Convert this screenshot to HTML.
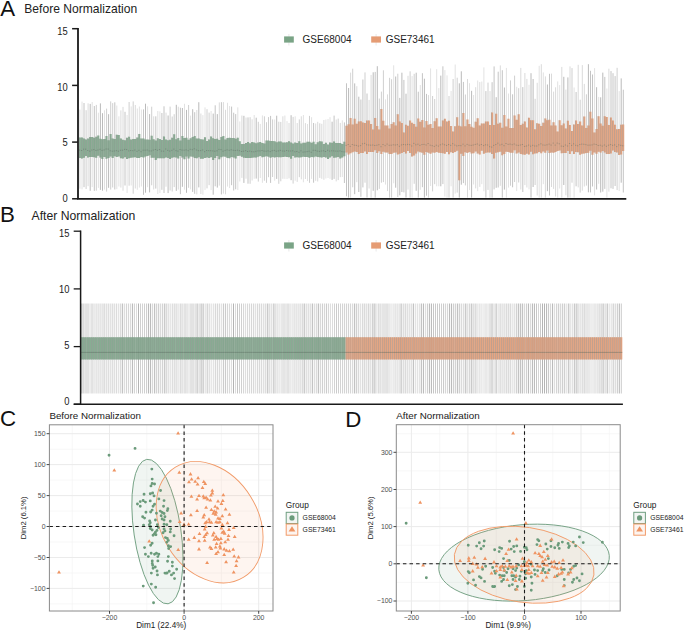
<!DOCTYPE html>
<html><head><meta charset="utf-8"><style>
html,body{margin:0;padding:0;background:#fff;overflow:hidden;}
svg{display:block;}
</style></head><body>
<svg width="685" height="631" viewBox="0 0 685 631">
<rect width="685" height="631" fill="#fff"/>
<path d="M79.9 109.6V188.7M88.1 103.3V186.2M120.9 110.4V187.6M123 106.9V190.7M135.3 105V188.5M153.7 116.3V189.5M166 112.6V186.7M178.3 106.7V189.6M196.8 110V194.4M200.9 113.5V194M219.3 102.4V185.6M223.4 102.1V193.6M225.5 109.8V194.3M241.9 115.5V177.9M246 117.5V178.7M252.1 119.3V180.5M282.9 116.3V178.8M289 123V178.4M297.2 123V181.9M301.3 116.3V179.4M305.4 123.1V179M315.7 123.5V180.8M317.7 121.8V181.5M321.8 123.8V178.8M323.9 120V179.8M336.2 119.5V181.4M340.3 122.9V177.2M350.6 72.6V197.6M356.8 86.2V182.2M369.1 99.9V188.5M371.1 74.9V197.6M387.5 94.4V191.1M408 75.8V189.6M428.5 95.1V197.6M467.5 79V197.6M475.7 87.2V188.4M479.8 82.1V186.9M490 91.1V197.6M500.3 65.4V185.8M520.8 67.9V189.5M524.9 73V185.1M526.9 78.9V187.5M537.2 82.8V195.5M541.3 64.2V197.6M545.4 76.4V197.6M551.5 73.6V187M553.6 91.6V188.9M555.6 87.3V196.5M561.8 66.9V197.6M565.9 89.6V195.3M570 66.4V197.6M578.2 64.8V187.4M582.3 65.1V190.7M584.3 83.9V186.5M608.9 68.7V191.7" stroke="#dadada" stroke-width="1.0" fill="none"/>
<path d="M82 101.6V189.3M92.2 102V187.1M98.4 112.7V187.9M104.5 110.3V189.6M116.8 105.5V189.2M118.9 116.3V186.5M127.1 115V193M131.2 106.4V185.5M137.3 108.5V189.8M139.4 106.5V187.6M141.4 109.5V186.5M147.6 106.3V187.2M157.8 111V194M159.9 111.4V193M184.5 103.8V189.7M190.6 115.6V189.4M202.9 115.1V194.7M205 107.4V189.9M211.1 111V190.1M227.5 102.8V186.6M229.6 106V188.1M237.8 107.3V190.1M239.8 121.4V181.5M254.2 115V178.8M260.3 123.9V178M262.4 115.4V182.8M274.7 119.5V180.7M284.9 115.5V178.9M287 121.1V179M295.2 116.3V180.7M303.4 115V182.3M307.5 124V181.1M311.6 117.2V178.9M325.9 119.5V178.5M328 119V178M330 117.2V178.8M342.3 120.3V177M385.5 99.4V184.6M393.7 65.3V183.3M412.1 76.1V197.6M420.3 85V189.8M430.6 68.4V186M436.7 69.2V186.3M438.8 88.1V186.3M444.9 70.1V196.6M447 75.4V197.6M451.1 90.9V186.3M455.2 64.5V193.6M469.5 83.2V190.1M473.6 95V184.5M477.7 80.5V191.2M481.8 81.5V184.2M483.9 67.4V191.3M506.4 67.9V197.6M508.5 93.5V187.6M516.7 86.8V191.1M529 84.8V189.4M539.2 65.8V197.6M543.3 72.4V184.2M557.7 81.4V197.6M559.7 85.1V188.5M574.1 87.5V197.6M594.6 68.1V195.4M598.7 96.9V183.8M606.9 88.5V197.6M619.2 91.1V191.1" stroke="#e2e2e2" stroke-width="1.0" fill="none"/>
<path d="M84 103V187.2M94.3 106V190.9M114.8 102.3V189.5M125 111.8V185.5M143.5 109.4V194.8M155.8 116.3V188.6M161.9 113V189.8M164 106.3V193M180.4 107.7V194.2M194.7 112.2V193.8M215.2 105.3V186.3M221.4 102.2V194.4M231.6 106.6V185.2M233.7 112.7V190.5M235.7 114.1V189.3M248 117.4V183.7M270.6 115.9V182.9M313.6 123V182.7M334.1 115.6V178.9M344.4 122.4V183M346.5 83.3V196.3M360.9 99.5V196.8M362.9 79.5V187.4M367 93.5V197.5M375.2 71.9V197.6M403.9 79.9V192.4M418.3 91.7V197.6M422.4 73.2V187.2M426.5 93.9V195.7M442.9 66.3V184.1M463.4 81.9V183.1M485.9 91.1V197.6M492.1 82.2V197.6M494.1 66.4V189.4M498.2 71.7V187.5M502.3 70.2V197.6M512.6 94.3V187.3M522.8 87.1V192M549.5 73.8V195.5M576.1 92V186.3M590.5 70.8V192.4M592.5 74.5V186.5M604.8 76.9V188.9M611 71.1V188.3M613 73.2V188.9M615.1 76.1V186M623.3 89.7V192.5" stroke="#c4c4c4" stroke-width="1.0" fill="none"/>
<path d="M86.1 110.2V189M96.3 104.9V190.7M106.6 108.6V191.6M110.7 101.4V189.6M112.7 103.1V187.5M129.1 102V185.7M133.2 101.4V193.7M151.7 106.7V185.3M170.1 106.6V190.5M172.2 116.5V191.5M174.2 114.2V187.1M188.6 105V187.8M207 109.2V188.4M209.1 112.6V185.2M250.1 117.2V183.8M258.3 121.8V181.6M264.4 116.3V180.7M266.5 122.2V182.8M268.5 117.1V177.2M272.6 119.4V177M278.8 121.7V183.8M280.8 121.9V181.3M293.1 116.9V183.6M299.3 119.4V177.2M309.5 115.9V182.8M319.8 123.3V177.9M338.2 118.6V180.1M352.7 68.7V187.3M365 72.4V182.7M379.3 98.5V188.9M381.4 91.6V182.7M383.4 70.3V182.1M389.6 77.8V197.6M391.6 79.2V197.6M397.8 73.7V197M410.1 71.3V197.6M414.2 73.8V183.8M432.6 96V191.4M434.7 99V184.2M449 96V197.6M453.1 79V197.6M457.2 77.7V192.6M465.4 94.5V185.4M488 82.6V189.9M510.5 80.4V185.7M514.6 75.6V182M518.7 88.2V182.5M535.1 98.8V185M572 68.1V182.7M580.2 99.7V192.6M586.4 94.3V185.6M617.1 67.8V190.1" stroke="#cfcfcf" stroke-width="1.0" fill="none"/>
<path d="M90.2 103.9V190.8M100.4 103.4V189.9M102.5 113.2V190.7M108.6 114.2V187.8M145.5 103.7V192.7M149.6 114.1V192.4M168.1 115.5V193.1M176.3 104.8V190.9M182.4 108V186.8M186.5 109.9V192.8M192.7 109.2V191.9M198.8 102.2V187.4M213.2 113.6V194.7M217.3 114.1V187.6M243.9 115.8V182.9M256.2 117.7V178.6M276.7 115.7V178.9M291.1 115.2V180.2M332.1 121.7V179.9M348.6 88V197.6M354.7 83.4V194.2M358.8 96.7V192M373.2 72.3V190.8M377.3 66.2V190.3M395.7 76.5V187.7M399.8 97.9V195.3M401.9 72.7V192M406 93.7V197.5M416.2 72.7V190.8M424.4 78.7V197.6M440.8 75.6V186.3M459.3 83.3V197.6M461.3 71.3V184.7M471.6 90.8V197.6M496.2 97.2V187.8M504.4 87.5V189.6M531 73.2V197.6M533.1 79V187M547.4 84.5V191.2M563.8 76.8V185M567.9 77.4V197.6M588.4 64.2V192.3M596.6 87.2V189.5M600.7 97.3V192.5M602.8 72.6V191.7M621.2 78.4V182.7" stroke="#bababa" stroke-width="1.0" fill="none"/>
<path d="M78.9 137.6h2.05V158.1h-2.05zM81 137.5h2.05V158.6h-2.05zM83 138.6h2.05V157.8h-2.05zM85 139.4h2.05V156.1h-2.05zM87.1 138.5h2.05V157.6h-2.05zM89.1 137h2.05V157h-2.05zM91.2 137h2.05V156.9h-2.05zM93.2 137.8h2.05V157.2h-2.05zM95.3 136.7h2.05V157.8h-2.05zM97.3 135.6h2.05V155.8h-2.05zM99.4 138.8h2.05V157.5h-2.05zM101.4 139.3h2.05V158.9h-2.05zM103.5 139h2.05V157h-2.05zM105.5 136h2.05V158.8h-2.05zM107.6 140.3h2.05V158.1h-2.05zM109.6 134h2.05V156.6h-2.05zM111.7 138.4h2.05V158h-2.05zM113.7 139h2.05V156.2h-2.05zM115.8 134.8h2.05V157h-2.05zM117.8 135.1h2.05V156.4h-2.05zM119.9 138.5h2.05V158.2h-2.05zM121.9 139.8h2.05V158.5h-2.05zM124 140.3h2.05V157.2h-2.05zM126 137.8h2.05V158.9h-2.05zM128.1 136.7h2.05V158.2h-2.05zM130.1 139.4h2.05V157.7h-2.05zM132.2 138.9h2.05V157.6h-2.05zM134.2 138.9h2.05V157.2h-2.05zM136.3 137.5h2.05V157.9h-2.05zM138.3 133.9h2.05V158h-2.05zM140.4 138.5h2.05V157.1h-2.05zM142.5 138.6h2.05V157.4h-2.05zM144.5 139.6h2.05V156.5h-2.05zM146.6 139.5h2.05V156.1h-2.05zM148.6 139.7h2.05V155.2h-2.05zM150.7 135.7h2.05V157.8h-2.05zM152.7 139.3h2.05V157.7h-2.05zM154.8 140.5h2.05V160.1h-2.05zM156.8 138.2h2.05V158.2h-2.05zM158.9 139h2.05V158.2h-2.05zM160.9 140h2.05V158.3h-2.05zM163 136.5h2.05V158.3h-2.05zM165 139.6h2.05V157.4h-2.05zM167.1 140.3h2.05V158h-2.05zM169.1 139.8h2.05V158.9h-2.05zM171.2 137.7h2.05V157.7h-2.05zM173.2 134.3h2.05V157.3h-2.05zM175.3 139.3h2.05V157.6h-2.05zM177.3 137.9h2.05V158.5h-2.05zM179.4 140.6h2.05V155.9h-2.05zM181.4 136h2.05V157.6h-2.05zM183.5 138h2.05V159.2h-2.05zM185.5 137.7h2.05V156.5h-2.05zM187.6 139.7h2.05V158.5h-2.05zM189.6 138.3h2.05V156.5h-2.05zM191.7 137h2.05V156.8h-2.05zM193.7 136.1h2.05V157.9h-2.05zM195.8 138.5h2.05V158.3h-2.05zM197.8 138.5h2.05V157.2h-2.05zM199.9 139.2h2.05V158.8h-2.05zM201.9 139.4h2.05V158.8h-2.05zM204 137.2h2.05V158h-2.05zM206 141h2.05V157.5h-2.05zM208.1 139.4h2.05V157.9h-2.05zM210.1 136.4h2.05V157.3h-2.05zM212.2 138.2h2.05V160h-2.05zM214.2 139h2.05V158h-2.05zM216.3 138.7h2.05V155.9h-2.05zM218.3 140.1h2.05V159.2h-2.05zM220.4 136.9h2.05V157.2h-2.05zM222.4 136.1h2.05V156.4h-2.05zM224.5 139.6h2.05V156.8h-2.05zM226.5 137.9h2.05V158.1h-2.05zM228.6 137.8h2.05V158.2h-2.05zM230.6 138.1h2.05V156.9h-2.05zM232.7 138h2.05V157.6h-2.05zM234.7 138.7h2.05V158.5h-2.05zM236.8 137.7h2.05V155.9h-2.05zM238.8 141.3h2.05V155.7h-2.05zM240.9 144h2.05V156.8h-2.05zM242.9 143.9h2.05V157.7h-2.05zM245 143h2.05V157.9h-2.05zM247 142.1h2.05V157.9h-2.05zM249.1 143.3h2.05V158h-2.05zM251.1 142.1h2.05V157.8h-2.05zM253.2 142.4h2.05V157.5h-2.05zM255.2 143.3h2.05V157.6h-2.05zM257.3 142.5h2.05V156.7h-2.05zM259.3 142h2.05V156.1h-2.05zM261.4 143h2.05V157.2h-2.05zM263.4 143.5h2.05V156.8h-2.05zM265.5 140.6h2.05V156.2h-2.05zM267.5 140.6h2.05V156.7h-2.05zM269.6 141h2.05V157.7h-2.05zM271.6 141.1h2.05V157h-2.05zM273.7 141.3h2.05V157.6h-2.05zM275.7 142.2h2.05V157.1h-2.05zM277.8 141.6h2.05V157.2h-2.05zM279.8 141.4h2.05V157.3h-2.05zM281.9 142.6h2.05V157.1h-2.05zM283.9 142.4h2.05V156.8h-2.05zM286 142.3h2.05V156.9h-2.05zM288 141.3h2.05V157.2h-2.05zM290.1 142.5h2.05V158.7h-2.05zM292.1 143.5h2.05V155.9h-2.05zM294.2 142.6h2.05V157.5h-2.05zM296.2 142.9h2.05V157.2h-2.05zM298.3 141.3h2.05V157.4h-2.05zM300.3 143.6h2.05V157.3h-2.05zM302.4 142.7h2.05V156.8h-2.05zM304.4 142.7h2.05V157h-2.05zM306.5 141.7h2.05V156.9h-2.05zM308.5 141.7h2.05V157.8h-2.05zM310.6 142.7h2.05V157h-2.05zM312.6 141.8h2.05V157.3h-2.05zM314.7 144.2h2.05V156.4h-2.05zM316.7 142.3h2.05V157.1h-2.05zM318.8 141.3h2.05V157.3h-2.05zM320.8 141.5h2.05V157.4h-2.05zM322.9 144h2.05V157h-2.05zM324.9 142.7h2.05V157.6h-2.05zM327 144.5h2.05V159h-2.05zM329 142.6h2.05V157.5h-2.05zM331.1 142.8h2.05V156.2h-2.05zM333.1 141.4h2.05V157.7h-2.05zM335.2 143h2.05V157.6h-2.05zM337.2 142.9h2.05V157h-2.05zM339.3 143.1h2.05V158.4h-2.05zM341.3 143.9h2.05V157.5h-2.05zM343.4 141.7h2.05V156.2h-2.05z" fill="#7aa486" fill-opacity="0.88"/>
<path d="M345.5 125.8h2.05V152.6h-2.05zM347.6 124.3h2.05V154.6h-2.05zM349.6 117.9h2.05V153.2h-2.05zM351.7 124.5h2.05V152.2h-2.05zM353.7 118.7h2.05V151.4h-2.05zM355.8 123.8h2.05V152.1h-2.05zM357.8 121.4h2.05V154.1h-2.05zM359.9 121.3h2.05V152.9h-2.05zM361.9 122.5h2.05V153h-2.05zM364 122.9h2.05V151.4h-2.05zM366 120.6h2.05V153.9h-2.05zM368.1 120.4h2.05V152h-2.05zM370.1 124h2.05V152h-2.05zM372.2 129.5h2.05V152h-2.05zM374.2 117.9h2.05V150.3h-2.05zM376.3 126h2.05V153h-2.05zM378.3 129.5h2.05V151.3h-2.05zM380.4 109h2.05V153.9h-2.05zM382.4 120.8h2.05V151.8h-2.05zM384.5 125.4h2.05V152.6h-2.05zM386.5 125.5h2.05V152.6h-2.05zM388.6 128.6h2.05V154.1h-2.05zM390.6 124.1h2.05V153.9h-2.05zM392.7 122.2h2.05V152.8h-2.05zM394.7 125.5h2.05V152.4h-2.05zM396.8 114.2h2.05V154.4h-2.05zM398.8 121.5h2.05V153.7h-2.05zM400.9 123h2.05V153h-2.05zM402.9 132.4h2.05V152h-2.05zM405 124.8h2.05V153.5h-2.05zM407 125.8h2.05V150.9h-2.05zM409.1 120.6h2.05V152.9h-2.05zM411.1 122.8h2.05V156.5h-2.05zM413.2 123.9h2.05V155.5h-2.05zM415.2 126.7h2.05V153.6h-2.05zM417.3 118.6h2.05V151.5h-2.05zM419.3 121.8h2.05V152.3h-2.05zM421.4 120h2.05V152.7h-2.05zM423.4 127.5h2.05V154.8h-2.05zM425.5 121.1h2.05V151.9h-2.05zM427.5 124.7h2.05V152.8h-2.05zM429.6 124h2.05V153.8h-2.05zM431.6 128h2.05V152.5h-2.05zM433.7 121.2h2.05V152.7h-2.05zM435.7 118.2h2.05V151.9h-2.05zM437.8 126.6h2.05V152.7h-2.05zM439.8 126.4h2.05V152.9h-2.05zM441.9 120.5h2.05V153.2h-2.05zM443.9 118.8h2.05V153.7h-2.05zM446 121.5h2.05V152h-2.05zM448 120.8h2.05V154.2h-2.05zM450.1 126h2.05V152.3h-2.05zM452.1 131.4h2.05V152.9h-2.05zM454.2 126.2h2.05V152.1h-2.05zM456.2 117.2h2.05V150.8h-2.05zM458.3 125.8h2.05V180.2h-2.05zM460.3 126.4h2.05V153.7h-2.05zM462.4 113h2.05V155.9h-2.05zM464.4 126.3h2.05V152.3h-2.05zM466.5 119.6h2.05V153h-2.05zM468.5 124h2.05V152.1h-2.05zM470.6 126.8h2.05V153.4h-2.05zM472.6 127.8h2.05V153.2h-2.05zM474.7 121.7h2.05V151.6h-2.05zM476.7 118.2h2.05V153.6h-2.05zM478.8 125.4h2.05V154.4h-2.05zM480.8 123.4h2.05V150.7h-2.05zM482.9 123.5h2.05V153.7h-2.05zM484.9 121.6h2.05V152.8h-2.05zM487 121.5h2.05V152.4h-2.05zM489 124.9h2.05V152.6h-2.05zM491.1 112.4h2.05V154h-2.05zM493.1 124.9h2.05V158.5h-2.05zM495.2 113.8h2.05V152.8h-2.05zM497.2 123.7h2.05V152.2h-2.05zM499.3 122.7h2.05V151.7h-2.05zM501.3 127.8h2.05V155.2h-2.05zM503.4 115.1h2.05V153.9h-2.05zM505.4 126.4h2.05V151.7h-2.05zM507.5 118.8h2.05V152h-2.05zM509.5 128h2.05V152.7h-2.05zM511.6 128h2.05V152.8h-2.05zM513.6 115.4h2.05V150.2h-2.05zM515.7 119.8h2.05V153.5h-2.05zM517.7 114.3h2.05V152.6h-2.05zM519.8 124.9h2.05V153.9h-2.05zM521.8 123.7h2.05V154.4h-2.05zM523.9 121.4h2.05V154.7h-2.05zM525.9 127.5h2.05V153.8h-2.05zM528 117.7h2.05V154.5h-2.05zM530 120.2h2.05V151.8h-2.05zM532.1 120.3h2.05V154.2h-2.05zM534.1 129.3h2.05V153.5h-2.05zM536.2 123.2h2.05V153.3h-2.05zM538.2 123.8h2.05V152.1h-2.05zM540.3 125.9h2.05V153.2h-2.05zM542.3 122.7h2.05V151.5h-2.05zM544.4 118.4h2.05V152.8h-2.05zM546.4 120.2h2.05V150.6h-2.05zM548.5 119.7h2.05V153.1h-2.05zM550.5 125.5h2.05V152.6h-2.05zM552.6 122.3h2.05V152.7h-2.05zM554.6 125.4h2.05V152.1h-2.05zM556.6 131.5h2.05V151.1h-2.05zM558.7 120.2h2.05V150.6h-2.05zM560.7 125.3h2.05V153.2h-2.05zM562.8 123.4h2.05V153h-2.05zM564.8 128.5h2.05V153.1h-2.05zM566.9 120.7h2.05V150.9h-2.05zM568.9 124.9h2.05V153.9h-2.05zM571 131.1h2.05V151.3h-2.05zM573 124.5h2.05V154.1h-2.05zM575.1 120.6h2.05V152.1h-2.05zM577.1 123.9h2.05V152.3h-2.05zM579.2 121.5h2.05V154.7h-2.05zM581.2 125.4h2.05V153.8h-2.05zM583.3 116.5h2.05V153.6h-2.05zM585.3 127.9h2.05V153.1h-2.05zM587.4 125.5h2.05V152.8h-2.05zM589.4 111.8h2.05V150.7h-2.05zM591.5 118.5h2.05V154.7h-2.05zM593.5 132.4h2.05V152.4h-2.05zM595.6 129h2.05V153.8h-2.05zM597.6 116.2h2.05V151.8h-2.05zM599.7 123.5h2.05V152.6h-2.05zM601.7 125.8h2.05V151h-2.05zM603.8 116.2h2.05V152.4h-2.05zM605.8 117h2.05V154.1h-2.05zM607.9 124.9h2.05V153.9h-2.05zM609.9 117.6h2.05V153.5h-2.05zM612 120.6h2.05V150.6h-2.05zM614 124.7h2.05V152.1h-2.05zM616.1 129.2h2.05V152.5h-2.05zM618.1 128.9h2.05V154.9h-2.05zM620.2 124.7h2.05V154.4h-2.05zM622.2 124.5h2.05V151.1h-2.05z" fill="#e59c74" fill-opacity="0.88"/>
<path d="M79.4 137.6V158.1M81.4 137.5V158.6M83.5 138.6V157.8M85.5 139.4V156.1M87.5 138.5V157.6M89.6 137V157M91.6 137V156.9M93.7 137.8V157.2M95.7 136.7V157.8M97.8 135.6V155.8M99.8 138.8V157.5M101.9 139.3V158.9M103.9 139V157M106 136V158.8M108 140.3V158.1M110.1 134V156.6M112.1 138.4V158M114.2 139V156.2M116.2 134.8V157M118.3 135.1V156.4M120.3 138.5V158.2M122.4 139.8V158.5M124.4 140.3V157.2M126.5 137.8V158.9M128.5 136.7V158.2M130.6 139.4V157.7M132.6 138.9V157.6M134.7 138.9V157.2M136.7 137.5V157.9M138.8 133.9V158M140.8 138.5V157.1M142.9 138.6V157.4M145 139.6V156.5M147 139.5V156.1M149.1 139.7V155.2M151.1 135.7V157.8M153.2 139.3V157.7M155.2 140.5V160.1M157.3 138.2V158.2M159.3 139V158.2M161.4 140V158.3M163.4 136.5V158.3M165.5 139.6V157.4M167.5 140.3V158M169.6 139.8V158.9M171.6 137.7V157.7M173.7 134.3V157.3M175.7 139.3V157.6M177.8 137.9V158.5M179.8 140.6V155.9M181.9 136V157.6M183.9 138V159.2M186 137.7V156.5M188 139.7V158.5M190.1 138.3V156.5M192.1 137V156.8M194.2 136.1V157.9M196.2 138.5V158.3M198.3 138.5V157.2M200.3 139.2V158.8M202.4 139.4V158.8M204.4 137.2V158M206.5 141V157.5M208.5 139.4V157.9M210.6 136.4V157.3M212.6 138.2V160M214.7 139V158M216.7 138.7V155.9M218.8 140.1V159.2M220.8 136.9V157.2M222.9 136.1V156.4M224.9 139.6V156.8M227 137.9V158.1M229 137.8V158.2M231.1 138.1V156.9M233.1 138V157.6M235.2 138.7V158.5M237.2 137.7V155.9M239.3 141.3V155.7M241.3 144V156.8M243.4 143.9V157.7M245.4 143V157.9M247.5 142.1V157.9M249.5 143.3V158M251.6 142.1V157.8M253.6 142.4V157.5M255.7 143.3V157.6M257.7 142.5V156.7M259.8 142V156.1M261.8 143V157.2M263.9 143.5V156.8M265.9 140.6V156.2M268 140.6V156.7M270 141V157.7M272.1 141.1V157M274.1 141.3V157.6M276.2 142.2V157.1M278.2 141.6V157.2M280.3 141.4V157.3M282.3 142.6V157.1M284.4 142.4V156.8M286.4 142.3V156.9M288.5 141.3V157.2M290.5 142.5V158.7M292.6 143.5V155.9M294.6 142.6V157.5M296.7 142.9V157.2M298.7 141.3V157.4M300.8 143.6V157.3M302.8 142.7V156.8M304.9 142.7V157M306.9 141.7V156.9M309 141.7V157.8M311 142.7V157M313.1 141.8V157.3M315.1 144.2V156.4M317.2 142.3V157.1M319.2 141.3V157.3M321.3 141.5V157.4M323.3 144V157M325.4 142.7V157.6M327.4 144.5V159M329.5 142.6V157.5M331.5 142.8V156.2M333.6 141.4V157.7M335.6 143V157.6M337.7 142.9V157M339.7 143.1V158.4M341.8 143.9V157.5M343.8 141.7V156.2M345.9 125.8V152.6M348 124.3V154.6M350.1 117.9V153.2M352.1 124.5V152.2M354.2 118.7V151.4M356.2 123.8V152.1M358.3 121.4V154.1M360.3 121.3V152.9M362.4 122.5V153M364.4 122.9V151.4M366.5 120.6V153.9M368.5 120.4V152M370.6 124V152M372.6 129.5V152M374.7 117.9V150.3M376.7 126V153M378.8 129.5V151.3M380.8 109V153.9M382.9 120.8V151.8M384.9 125.4V152.6M387 125.5V152.6M389 128.6V154.1M391.1 124.1V153.9M393.1 122.2V152.8M395.2 125.5V152.4M397.2 114.2V154.4M399.3 121.5V153.7M401.3 123V153M403.4 132.4V152M405.4 124.8V153.5M407.5 125.8V150.9M409.5 120.6V152.9M411.6 122.8V156.5M413.6 123.9V155.5M415.7 126.7V153.6M417.7 118.6V151.5M419.8 121.8V152.3M421.8 120V152.7M423.9 127.5V154.8M425.9 121.1V151.9M428 124.7V152.8M430 124V153.8M432.1 128V152.5M434.1 121.2V152.7M436.2 118.2V151.9M438.2 126.6V152.7M440.3 126.4V152.9M442.3 120.5V153.2M444.4 118.8V153.7M446.4 121.5V152M448.5 120.8V154.2M450.5 126V152.3M452.6 131.4V152.9M454.6 126.2V152.1M456.7 117.2V150.8M458.7 125.8V180.2M460.8 126.4V153.7M462.8 113V155.9M464.9 126.3V152.3M466.9 119.6V153M469 124V152.1M471 126.8V153.4M473.1 127.8V153.2M475.1 121.7V151.6M477.2 118.2V153.6M479.2 125.4V154.4M481.3 123.4V150.7M483.3 123.5V153.7M485.4 121.6V152.8M487.4 121.5V152.4M489.5 124.9V152.6M491.5 112.4V154M493.6 124.9V158.5M495.6 113.8V152.8M497.7 123.7V152.2M499.7 122.7V151.7M501.8 127.8V155.2M503.8 115.1V153.9M505.9 126.4V151.7M507.9 118.8V152M510 128V152.7M512 128V152.8M514.1 115.4V150.2M516.1 119.8V153.5M518.2 114.3V152.6M520.2 124.9V153.9M522.3 123.7V154.4M524.3 121.4V154.7M526.4 127.5V153.8M528.4 117.7V154.5M530.5 120.2V151.8M532.5 120.3V154.2M534.6 129.3V153.5M536.6 123.2V153.3M538.7 123.8V152.1M540.7 125.9V153.2M542.8 122.7V151.5M544.8 118.4V152.8M546.9 120.2V150.6M548.9 119.7V153.1M551 125.5V152.6M553 122.3V152.7M555.1 125.4V152.1M557.1 131.5V151.1M559.1 120.2V150.6M561.2 125.3V153.2M563.2 123.4V153M565.3 128.5V153.1M567.3 120.7V150.9M569.4 124.9V153.9M571.4 131.1V151.3M573.5 124.5V154.1M575.5 120.6V152.1M577.6 123.9V152.3M579.6 121.5V154.7M581.7 125.4V153.8M583.7 116.5V153.6M585.8 127.9V153.1M587.8 125.5V152.8M589.9 111.8V150.7M591.9 118.5V154.7M594 132.4V152.4M596 129V153.8M598.1 116.2V151.8M600.1 123.5V152.6M602.2 125.8V151M604.2 116.2V152.4M606.3 117V154.1M608.3 124.9V153.9M610.4 117.6V153.5M612.4 120.6V150.6M614.5 124.7V152.1M616.5 129.2V152.5M618.6 128.9V154.9M620.6 124.7V154.4M622.7 124.5V151.1" stroke="#999" stroke-opacity="0.5" stroke-width="0.9" fill="none"/>
<path d="M78.9 150.1h2.05M81 150.5h2.05M83 149.2h2.05M85 149.2h2.05M87.1 150.5h2.05M89.1 151.2h2.05M91.2 150h2.05M93.2 149.6h2.05M95.3 150.5h2.05M97.3 150h2.05M99.4 149.3h2.05M101.4 150.4h2.05M103.5 149.9h2.05M105.5 149h2.05M107.6 149.1h2.05M109.6 150.8h2.05M111.7 151.2h2.05M113.7 151h2.05M115.8 150.7h2.05M117.8 151.2h2.05M119.9 150.3h2.05M121.9 150.2h2.05M124 149.4h2.05M126 149.6h2.05M128.1 150.9h2.05M130.1 150.5h2.05M132.2 150.7h2.05M134.2 150h2.05M136.3 151.3h2.05M138.3 150.3h2.05M140.4 151.7h2.05M142.5 150.2h2.05M144.5 150.2h2.05M146.6 150h2.05M148.6 150.9h2.05M150.7 150.9h2.05M152.7 150.1h2.05M154.8 149.5h2.05M156.8 150.3h2.05M158.9 149.6h2.05M160.9 151.1h2.05M163 151.2h2.05M165 149h2.05M167.1 150.4h2.05M169.1 151.1h2.05M171.2 150.3h2.05M173.2 149.1h2.05M175.3 150.7h2.05M177.3 151.1h2.05M179.4 149.5h2.05M181.4 150.1h2.05M183.5 150.2h2.05M185.5 149.9h2.05M187.6 150.7h2.05M189.6 149.3h2.05M191.7 149.7h2.05M193.7 148.8h2.05M195.8 150h2.05M197.8 150.7h2.05M199.9 150.6h2.05M201.9 150h2.05M204 151.7h2.05M206 150.5h2.05M208.1 150.7h2.05M210.1 150.7h2.05M212.2 150.9h2.05M214.2 151.2h2.05M216.3 150.8h2.05M218.3 149.4h2.05M220.4 149.6h2.05M222.4 151.2h2.05M224.5 150.4h2.05M226.5 149.8h2.05M228.6 150.3h2.05M230.6 149.8h2.05M232.7 150.3h2.05M234.7 150.5h2.05M236.8 150.2h2.05M238.8 150.7h2.05M240.9 151.5h2.05M242.9 151.2h2.05M245 150.7h2.05M247 151.5h2.05M249.1 151.1h2.05M251.1 151.7h2.05M253.2 151.8h2.05M255.2 151.3h2.05M257.3 150.9h2.05M259.3 150.9h2.05M261.4 150.5h2.05M263.4 151.1h2.05M265.5 151.2h2.05M267.5 150.9h2.05M269.6 151.6h2.05M271.6 150.7h2.05M273.7 150.4h2.05M275.7 151.2h2.05M277.8 150.9h2.05M279.8 150.4h2.05M281.9 151h2.05M283.9 151.1h2.05M286 150.5h2.05M288 151h2.05M290.1 151h2.05M292.1 150.8h2.05M294.2 151.8h2.05M296.2 151.5h2.05M298.3 152.3h2.05M300.3 150.8h2.05M302.4 152.1h2.05M304.4 151.9h2.05M306.5 151.6h2.05M308.5 151.2h2.05M310.6 152.3h2.05M312.6 150.3h2.05M314.7 150.4h2.05M316.7 151.1h2.05M318.8 151.4h2.05M320.8 151h2.05M322.9 150.8h2.05M324.9 151.5h2.05M327 150.3h2.05M329 151.1h2.05M331.1 150.8h2.05M333.1 150.9h2.05M335.2 151.1h2.05M337.2 151.2h2.05M339.3 150.9h2.05M341.3 151.6h2.05M343.4 151.9h2.05M345.5 145.4h2.05M347.6 144.5h2.05M349.6 146.4h2.05M351.7 144.5h2.05M353.7 145.2h2.05M355.8 145.4h2.05M357.8 146.1h2.05M359.9 145.6h2.05M361.9 143.8h2.05M364 143.4h2.05M366 144.8h2.05M368.1 145h2.05M370.1 145.2h2.05M372.2 145h2.05M374.2 145.5h2.05M376.3 145.2h2.05M378.3 144.7h2.05M380.4 146.7h2.05M382.4 144.5h2.05M384.5 145.7h2.05M386.5 144.1h2.05M388.6 145.3h2.05M390.6 145.2h2.05M392.7 144.8h2.05M394.7 145h2.05M396.8 144.7h2.05M398.8 146.3h2.05M400.9 144.9h2.05M402.9 144.5h2.05M405 144.8h2.05M407 144.4h2.05M409.1 144.7h2.05M411.1 146h2.05M413.2 143.4h2.05M415.2 144.8h2.05M417.3 144.2h2.05M419.3 145.4h2.05M421.4 144.5h2.05M423.4 144.4h2.05M425.5 145h2.05M427.5 143.5h2.05M429.6 145.2h2.05M431.6 145.7h2.05M433.7 146.4h2.05M435.7 145.2h2.05M437.8 146.1h2.05M439.8 144.8h2.05M441.9 144h2.05M443.9 144.8h2.05M446 145.4h2.05M448 144.5h2.05M450.1 145.4h2.05M452.1 143.7h2.05M454.2 145.1h2.05M456.2 145.9h2.05M458.3 145.5h2.05M460.3 145.7h2.05M462.4 144.2h2.05M464.4 145.9h2.05M466.5 144.4h2.05M468.5 145.2h2.05M470.6 145.4h2.05M472.6 145h2.05M474.7 144.4h2.05M476.7 144h2.05M478.8 145.2h2.05M480.8 144.5h2.05M482.9 145.6h2.05M484.9 144.8h2.05M487 145h2.05M489 146.7h2.05M491.1 147.1h2.05M493.1 145.4h2.05M495.2 144.5h2.05M497.2 143.2h2.05M499.3 145h2.05M501.3 144.3h2.05M503.4 145.7h2.05M505.4 143.5h2.05M507.5 144.4h2.05M509.5 144.1h2.05M511.6 144.7h2.05M513.6 144h2.05M515.7 145.1h2.05M517.7 145.4h2.05M519.8 145h2.05M521.8 144.5h2.05M523.9 146.4h2.05M525.9 146h2.05M528 145.1h2.05M530 146.2h2.05M532.1 145.3h2.05M534.1 146h2.05M536.2 146h2.05M538.2 144.8h2.05M540.3 143.8h2.05M542.3 145h2.05M544.4 145.2h2.05M546.4 144.8h2.05M548.5 144.1h2.05M550.5 145.1h2.05M552.6 143.1h2.05M554.6 145.1h2.05M556.6 143.1h2.05M558.7 143.8h2.05M560.7 146.1h2.05M562.8 146.4h2.05M564.8 145h2.05M566.9 146h2.05M568.9 143.5h2.05M571 145.4h2.05M573 143.8h2.05M575.1 145.3h2.05M577.1 145.8h2.05M579.2 144.5h2.05M581.2 144.1h2.05M583.3 144.3h2.05M585.3 144.7h2.05M587.4 145.2h2.05M589.4 145.1h2.05M591.5 144.9h2.05M593.5 144.1h2.05M595.6 144.5h2.05M597.6 145.5h2.05M599.7 145.2h2.05M601.7 146.1h2.05M603.8 145h2.05M605.8 146.3h2.05M607.9 145.2h2.05M609.9 144.6h2.05M612 145.3h2.05M614 144.9h2.05M616.1 146.6h2.05M618.1 144.9h2.05M620.2 145.4h2.05M622.2 145.8h2.05" stroke="#55655a" stroke-width="0.7" opacity="0.55" stroke-dasharray="1.2 0.8" fill="none"/>
<path d="M78 27.9V199.7M77.1 198.8H626.3" stroke="#1a1a1a" stroke-width="1.8" fill="none"/>
<path d="M72.1 198.8H78" stroke="#1a1a1a" stroke-width="1.5"/>
<text transform="translate(67.8 202.1) scale(0.92 1)" font-family="Liberation Sans" font-size="10.2" fill="#222" text-anchor="end">0</text>
<path d="M72.1 142.1H78" stroke="#1a1a1a" stroke-width="1.5"/>
<text transform="translate(67.8 146.3) scale(0.92 1)" font-family="Liberation Sans" font-size="10.2" fill="#222" text-anchor="end">5</text>
<path d="M72.1 85.4H78" stroke="#1a1a1a" stroke-width="1.5"/>
<text transform="translate(67.8 90.6) scale(0.92 1)" font-family="Liberation Sans" font-size="10.2" fill="#222" text-anchor="end">10</text>
<path d="M72.1 28.7H78" stroke="#1a1a1a" stroke-width="1.5"/>
<text transform="translate(67.8 34.8) scale(0.92 1)" font-family="Liberation Sans" font-size="10.2" fill="#222" text-anchor="end">15</text>
<text x="0.2" y="16.2" font-family="Liberation Sans" font-size="22.3" fill="#111">A</text>
<text x="24.3" y="13.2" font-family="Liberation Sans" font-size="12.1" fill="#222">Before Normalization</text>
<path d="M288.9 34.0v11.5M376.1 34.0v11.5" stroke="#d8d8d8" stroke-width="0.6"/>
<rect x="284.1" y="36.4" width="9.7" height="6.2" fill="#7aa486"/>
<text x="302.6" y="43.0" font-family="Liberation Sans" font-size="10" fill="#222">GSE68004</text>
<rect x="371.2" y="36.4" width="9.8" height="6.2" fill="#e59c74"/>
<text x="385.7" y="43.0" font-family="Liberation Sans" font-size="10" fill="#222">GSE73461</text>
<path d="M81.9 303.5V393.5M122.3 303.5V393.5M132.4 303.5V393.5M138.5 303.5V393.5M148.6 303.5V393.5M150.6 303.5V393.5M154.7 303.5V393.5M164.8 303.5V393.5M197.1 303.5V393.5M201.1 303.5V393.5M203.1 303.5V393.5M233.5 303.5V393.5M267.8 303.5V393.5M273.9 303.5V393.5M304.2 303.5V393.5M312.3 303.5V393.5M318.3 303.5V393.5M354.7 303.5V393.5M372.9 303.5V393.5M374.9 303.5V393.5M401.1 303.5V393.5M413.3 303.5V393.5M421.3 303.5V393.5M423.4 303.5V393.5M429.4 303.5V393.5M431.4 303.5V393.5M449.6 303.5V393.5M451.6 303.5V393.5M457.7 303.5V393.5M465.8 303.5V393.5M471.8 303.5V393.5M492 303.5V393.5M496.1 303.5V393.5M518.3 303.5V393.5M520.3 303.5V393.5M522.3 303.5V393.5M528.4 303.5V393.5M532.4 303.5V393.5M534.4 303.5V393.5M542.5 303.5V393.5M544.5 303.5V393.5M546.6 303.5V393.5M552.6 303.5V393.5M568.8 303.5V393.5M574.8 303.5V393.5M576.9 303.5V393.5M603.1 303.5V393.5M607.2 303.5V393.5M619.3 303.5V393.5" stroke="#b4b4b4" stroke-width="1.0" fill="none"/>
<path d="M83.9 303.5V393.5M86 303.5V393.5M88 303.5V393.5M92 303.5V393.5M104.1 303.5V393.5M158.7 303.5V393.5M180.9 303.5V393.5M185 303.5V393.5M191 303.5V393.5M193 303.5V393.5M207.2 303.5V393.5M223.4 303.5V393.5M225.4 303.5V393.5M237.5 303.5V393.5M288 303.5V393.5M326.4 303.5V393.5M356.7 303.5V393.5M368.8 303.5V393.5M378.9 303.5V393.5M387 303.5V393.5M433.5 303.5V393.5M443.6 303.5V393.5M453.7 303.5V393.5M459.7 303.5V393.5M469.8 303.5V393.5M475.9 303.5V393.5M490 303.5V393.5M516.3 303.5V393.5M536.5 303.5V393.5M548.6 303.5V393.5M558.7 303.5V393.5M562.7 303.5V393.5M564.7 303.5V393.5M584.9 303.5V393.5M601.1 303.5V393.5M613.2 303.5V393.5M617.3 303.5V393.5" stroke="#c6c6c6" stroke-width="1.0" fill="none"/>
<path d="M90 303.5V393.5M118.3 303.5V393.5M136.5 303.5V393.5M170.8 303.5V393.5M178.9 303.5V393.5M189 303.5V393.5M205.2 303.5V393.5M211.2 303.5V393.5M213.3 303.5V393.5M221.3 303.5V393.5M231.4 303.5V393.5M235.5 303.5V393.5M245.6 303.5V393.5M255.7 303.5V393.5M279.9 303.5V393.5M292.1 303.5V393.5M330.4 303.5V393.5M332.5 303.5V393.5M360.7 303.5V393.5M376.9 303.5V393.5M391 303.5V393.5M393.1 303.5V393.5M415.3 303.5V393.5M417.3 303.5V393.5M419.3 303.5V393.5M425.4 303.5V393.5M477.9 303.5V393.5M481.9 303.5V393.5M484 303.5V393.5M488 303.5V393.5M498.1 303.5V393.5M512.2 303.5V393.5M554.6 303.5V393.5M566.8 303.5V393.5M570.8 303.5V393.5M591 303.5V393.5M593 303.5V393.5M609.2 303.5V393.5M611.2 303.5V393.5" stroke="#dcdcdc" stroke-width="1.0" fill="none"/>
<path d="M94 303.5V393.5M110.2 303.5V393.5M124.3 303.5V393.5M130.4 303.5V393.5M152.6 303.5V393.5M168.8 303.5V393.5M229.4 303.5V393.5M247.6 303.5V393.5M249.6 303.5V393.5M271.8 303.5V393.5M277.9 303.5V393.5M290 303.5V393.5M298.1 303.5V393.5M314.3 303.5V393.5M370.8 303.5V393.5M397.1 303.5V393.5M399.1 303.5V393.5M409.2 303.5V393.5M467.8 303.5V393.5M479.9 303.5V393.5M494 303.5V393.5M514.2 303.5V393.5M530.4 303.5V393.5M538.5 303.5V393.5M572.8 303.5V393.5M580.9 303.5V393.5M597.1 303.5V393.5" stroke="#d6d6d6" stroke-width="1.0" fill="none"/>
<path d="M96.1 303.5V393.5M98.1 303.5V393.5M100.1 303.5V393.5M102.1 303.5V393.5M106.2 303.5V393.5M114.2 303.5V393.5M116.3 303.5V393.5M120.3 303.5V393.5M128.4 303.5V393.5M142.5 303.5V393.5M160.7 303.5V393.5M182.9 303.5V393.5M209.2 303.5V393.5M219.3 303.5V393.5M227.4 303.5V393.5M243.6 303.5V393.5M251.6 303.5V393.5M261.7 303.5V393.5M263.8 303.5V393.5M286 303.5V393.5M294.1 303.5V393.5M296.1 303.5V393.5M306.2 303.5V393.5M308.2 303.5V393.5M310.2 303.5V393.5M316.3 303.5V393.5M324.4 303.5V393.5M328.4 303.5V393.5M334.5 303.5V393.5M340.5 303.5V393.5M350.6 303.5V393.5M352.7 303.5V393.5M366.8 303.5V393.5M389 303.5V393.5M395.1 303.5V393.5M407.2 303.5V393.5M411.2 303.5V393.5M445.6 303.5V393.5M447.6 303.5V393.5M461.7 303.5V393.5M486 303.5V393.5M502.1 303.5V393.5M550.6 303.5V393.5M578.9 303.5V393.5M589 303.5V393.5M595 303.5V393.5" stroke="#d3d3d3" stroke-width="1.0" fill="none"/>
<path d="M108.2 303.5V393.5M112.2 303.5V393.5M126.4 303.5V393.5M134.4 303.5V393.5M140.5 303.5V393.5M144.5 303.5V393.5M172.8 303.5V393.5M176.9 303.5V393.5M187 303.5V393.5M195.1 303.5V393.5M199.1 303.5V393.5M215.3 303.5V393.5M217.3 303.5V393.5M239.5 303.5V393.5M241.5 303.5V393.5M253.7 303.5V393.5M257.7 303.5V393.5M259.7 303.5V393.5M265.8 303.5V393.5M269.8 303.5V393.5M275.9 303.5V393.5M282 303.5V393.5M300.1 303.5V393.5M320.3 303.5V393.5M338.5 303.5V393.5M342.6 303.5V393.5M344.6 303.5V393.5M346.6 303.5V393.5M348.6 303.5V393.5M358.7 303.5V393.5M380.9 303.5V393.5M403.2 303.5V393.5M441.5 303.5V393.5M463.8 303.5V393.5M504.1 303.5V393.5M524.3 303.5V393.5M560.7 303.5V393.5M587 303.5V393.5M605.1 303.5V393.5M615.2 303.5V393.5" stroke="#d0d0d0" stroke-width="1.0" fill="none"/>
<path d="M146.6 303.5V393.5M156.7 303.5V393.5M162.7 303.5V393.5M166.8 303.5V393.5M174.9 303.5V393.5M284 303.5V393.5M302.2 303.5V393.5M322.4 303.5V393.5M336.5 303.5V393.5M362.8 303.5V393.5M364.8 303.5V393.5M383 303.5V393.5M385 303.5V393.5M405.2 303.5V393.5M427.4 303.5V393.5M435.5 303.5V393.5M437.5 303.5V393.5M439.5 303.5V393.5M455.7 303.5V393.5M473.9 303.5V393.5M500.1 303.5V393.5M506.2 303.5V393.5M508.2 303.5V393.5M510.2 303.5V393.5M526.4 303.5V393.5M540.5 303.5V393.5M556.7 303.5V393.5M582.9 303.5V393.5M599.1 303.5V393.5M621.3 303.5V393.5" stroke="#cbcbcb" stroke-width="1.0" fill="none"/>
<path d="M80.9 337.2h2.021V359.5h-2.021zM82.9 337.2h2.021V359.5h-2.021zM84.9 337.2h2.021V359.5h-2.021zM87 337.2h2.021V359.5h-2.021zM89 337.2h2.021V359.5h-2.021zM91 337.2h2.021V359.5h-2.021zM93 337.2h2.021V359.5h-2.021zM95 337.2h2.021V359.5h-2.021zM97.1 337.2h2.021V359.5h-2.021zM99.1 337.2h2.021V359.5h-2.021zM101.1 337.2h2.021V359.5h-2.021zM103.1 337.2h2.021V359.5h-2.021zM105.1 337.2h2.021V359.5h-2.021zM107.2 337.2h2.021V359.5h-2.021zM109.2 337.2h2.021V359.5h-2.021zM111.2 337.2h2.021V359.5h-2.021zM113.2 337.2h2.021V359.5h-2.021zM115.3 337.2h2.021V359.5h-2.021zM117.3 337.2h2.021V359.5h-2.021zM119.3 337.2h2.021V359.5h-2.021zM121.3 337.2h2.021V359.5h-2.021zM123.3 337.2h2.021V359.5h-2.021zM125.4 337.2h2.021V359.5h-2.021zM127.4 337.2h2.021V359.5h-2.021zM129.4 337.2h2.021V359.5h-2.021zM131.4 337.2h2.021V359.5h-2.021zM133.4 337.2h2.021V359.5h-2.021zM135.5 337.2h2.021V359.5h-2.021zM137.5 337.2h2.021V359.5h-2.021zM139.5 337.2h2.021V359.5h-2.021zM141.5 337.2h2.021V359.5h-2.021zM143.5 337.2h2.021V359.5h-2.021zM145.6 337.2h2.021V359.5h-2.021zM147.6 337.2h2.021V359.5h-2.021zM149.6 337.2h2.021V359.5h-2.021zM151.6 337.2h2.021V359.5h-2.021zM153.6 337.2h2.021V359.5h-2.021zM155.7 337.2h2.021V359.5h-2.021zM157.7 337.2h2.021V359.5h-2.021zM159.7 337.2h2.021V359.5h-2.021zM161.7 337.2h2.021V359.5h-2.021zM163.7 337.2h2.021V359.5h-2.021zM165.8 337.2h2.021V359.5h-2.021zM167.8 337.2h2.021V359.5h-2.021zM169.8 337.2h2.021V359.5h-2.021zM171.8 337.2h2.021V359.5h-2.021zM173.8 337.2h2.021V359.5h-2.021zM175.9 337.2h2.021V359.5h-2.021zM177.9 337.2h2.021V359.5h-2.021zM179.9 337.2h2.021V359.5h-2.021zM181.9 337.2h2.021V359.5h-2.021zM184 337.2h2.021V359.5h-2.021zM186 337.2h2.021V359.5h-2.021zM188 337.2h2.021V359.5h-2.021zM190 337.2h2.021V359.5h-2.021zM192 337.2h2.021V359.5h-2.021zM194.1 337.2h2.021V359.5h-2.021zM196.1 337.2h2.021V359.5h-2.021zM198.1 337.2h2.021V359.5h-2.021zM200.1 337.2h2.021V359.5h-2.021zM202.1 337.2h2.021V359.5h-2.021zM204.2 337.2h2.021V359.5h-2.021zM206.2 337.2h2.021V359.5h-2.021zM208.2 337.2h2.021V359.5h-2.021zM210.2 337.2h2.021V359.5h-2.021zM212.2 337.2h2.021V359.5h-2.021zM214.3 337.2h2.021V359.5h-2.021zM216.3 337.2h2.021V359.5h-2.021zM218.3 337.2h2.021V359.5h-2.021zM220.3 337.2h2.021V359.5h-2.021zM222.3 337.2h2.021V359.5h-2.021zM224.4 337.2h2.021V359.5h-2.021zM226.4 337.2h2.021V359.5h-2.021zM228.4 337.2h2.021V359.5h-2.021zM230.4 337.2h2.021V359.5h-2.021zM232.4 337.2h2.021V359.5h-2.021zM234.5 337.2h2.021V359.5h-2.021zM236.5 337.2h2.021V359.5h-2.021zM238.5 337.2h2.021V359.5h-2.021zM240.5 337.2h2.021V359.5h-2.021zM242.5 337.2h2.021V359.5h-2.021zM244.6 337.2h2.021V359.5h-2.021zM246.6 337.2h2.021V359.5h-2.021zM248.6 337.2h2.021V359.5h-2.021zM250.6 337.2h2.021V359.5h-2.021zM252.7 337.2h2.021V359.5h-2.021zM254.7 337.2h2.021V359.5h-2.021zM256.7 337.2h2.021V359.5h-2.021zM258.7 337.2h2.021V359.5h-2.021zM260.7 337.2h2.021V359.5h-2.021zM262.8 337.2h2.021V359.5h-2.021zM264.8 337.2h2.021V359.5h-2.021zM266.8 337.2h2.021V359.5h-2.021zM268.8 337.2h2.021V359.5h-2.021zM270.8 337.2h2.021V359.5h-2.021zM272.9 337.2h2.021V359.5h-2.021zM274.9 337.2h2.021V359.5h-2.021zM276.9 337.2h2.021V359.5h-2.021zM278.9 337.2h2.021V359.5h-2.021zM280.9 337.2h2.021V359.5h-2.021zM283 337.2h2.021V359.5h-2.021zM285 337.2h2.021V359.5h-2.021zM287 337.2h2.021V359.5h-2.021zM289 337.2h2.021V359.5h-2.021zM291 337.2h2.021V359.5h-2.021zM293.1 337.2h2.021V359.5h-2.021zM295.1 337.2h2.021V359.5h-2.021zM297.1 337.2h2.021V359.5h-2.021zM299.1 337.2h2.021V359.5h-2.021zM301.1 337.2h2.021V359.5h-2.021zM303.2 337.2h2.021V359.5h-2.021zM305.2 337.2h2.021V359.5h-2.021zM307.2 337.2h2.021V359.5h-2.021zM309.2 337.2h2.021V359.5h-2.021zM311.2 337.2h2.021V359.5h-2.021zM313.3 337.2h2.021V359.5h-2.021zM315.3 337.2h2.021V359.5h-2.021zM317.3 337.2h2.021V359.5h-2.021zM319.3 337.2h2.021V359.5h-2.021zM321.4 337.2h2.021V359.5h-2.021zM323.4 337.2h2.021V359.5h-2.021zM325.4 337.2h2.021V359.5h-2.021zM327.4 337.2h2.021V359.5h-2.021zM329.4 337.2h2.021V359.5h-2.021zM331.5 337.2h2.021V359.5h-2.021zM333.5 337.2h2.021V359.5h-2.021zM335.5 337.2h2.021V359.5h-2.021zM337.5 337.2h2.021V359.5h-2.021zM339.5 337.2h2.021V359.5h-2.021zM341.6 337.2h2.021V359.5h-2.021zM343.6 337.2h2.021V359.5h-2.021z" fill="#7aa486" fill-opacity="0.88"/>
<path d="M345.6 337.2h2.021V359.5h-2.021zM347.6 337.2h2.021V359.5h-2.021zM349.6 337.2h2.021V359.5h-2.021zM351.7 337.2h2.021V359.5h-2.021zM353.7 337.2h2.021V359.5h-2.021zM355.7 337.2h2.021V359.5h-2.021zM357.7 337.2h2.021V359.5h-2.021zM359.7 337.2h2.021V359.5h-2.021zM361.8 337.2h2.021V359.5h-2.021zM363.8 337.2h2.021V359.5h-2.021zM365.8 337.2h2.021V359.5h-2.021zM367.8 337.2h2.021V359.5h-2.021zM369.8 337.2h2.021V359.5h-2.021zM371.9 337.2h2.021V359.5h-2.021zM373.9 337.2h2.021V359.5h-2.021zM375.9 337.2h2.021V359.5h-2.021zM377.9 337.2h2.021V359.5h-2.021zM379.9 337.2h2.021V359.5h-2.021zM382 337.2h2.021V359.5h-2.021zM384 337.2h2.021V359.5h-2.021zM386 337.2h2.021V359.5h-2.021zM388 337.2h2.021V359.5h-2.021zM390 337.2h2.021V359.5h-2.021zM392.1 337.2h2.021V359.5h-2.021zM394.1 337.2h2.021V359.5h-2.021zM396.1 337.2h2.021V359.5h-2.021zM398.1 337.2h2.021V359.5h-2.021zM400.1 337.2h2.021V359.5h-2.021zM402.2 337.2h2.021V359.5h-2.021zM404.2 337.2h2.021V359.5h-2.021zM406.2 337.2h2.021V359.5h-2.021zM408.2 337.2h2.021V359.5h-2.021zM410.2 337.2h2.021V359.5h-2.021zM412.3 337.2h2.021V359.5h-2.021zM414.3 337.2h2.021V359.5h-2.021zM416.3 337.2h2.021V359.5h-2.021zM418.3 337.2h2.021V359.5h-2.021zM420.3 337.2h2.021V359.5h-2.021zM422.3 337.2h2.021V359.5h-2.021zM424.4 337.2h2.021V359.5h-2.021zM426.4 337.2h2.021V359.5h-2.021zM428.4 337.2h2.021V359.5h-2.021zM430.4 337.2h2.021V359.5h-2.021zM432.4 337.2h2.021V359.5h-2.021zM434.5 337.2h2.021V359.5h-2.021zM436.5 337.2h2.021V359.5h-2.021zM438.5 337.2h2.021V359.5h-2.021zM440.5 337.2h2.021V359.5h-2.021zM442.5 337.2h2.021V359.5h-2.021zM444.6 337.2h2.021V359.5h-2.021zM446.6 337.2h2.021V359.5h-2.021zM448.6 337.2h2.021V359.5h-2.021zM450.6 337.2h2.021V359.5h-2.021zM452.6 337.2h2.021V359.5h-2.021zM454.7 337.2h2.021V359.5h-2.021zM456.7 337.2h2.021V359.5h-2.021zM458.7 337.2h2.021V359.5h-2.021zM460.7 337.2h2.021V359.5h-2.021zM462.7 337.2h2.021V359.5h-2.021zM464.8 337.2h2.021V359.5h-2.021zM466.8 337.2h2.021V359.5h-2.021zM468.8 337.2h2.021V359.5h-2.021zM470.8 337.2h2.021V359.5h-2.021zM472.8 337.2h2.021V359.5h-2.021zM474.9 337.2h2.021V359.5h-2.021zM476.9 337.2h2.021V359.5h-2.021zM478.9 337.2h2.021V359.5h-2.021zM480.9 337.2h2.021V359.5h-2.021zM482.9 337.2h2.021V359.5h-2.021zM485 337.2h2.021V359.5h-2.021zM487 337.2h2.021V359.5h-2.021zM489 337.2h2.021V359.5h-2.021zM491 337.2h2.021V359.5h-2.021zM493 337.2h2.021V359.5h-2.021zM495.1 337.2h2.021V359.5h-2.021zM497.1 337.2h2.021V359.5h-2.021zM499.1 337.2h2.021V359.5h-2.021zM501.1 337.2h2.021V359.5h-2.021zM503.1 337.2h2.021V359.5h-2.021zM505.2 337.2h2.021V359.5h-2.021zM507.2 337.2h2.021V359.5h-2.021zM509.2 337.2h2.021V359.5h-2.021zM511.2 337.2h2.021V359.5h-2.021zM513.2 337.2h2.021V359.5h-2.021zM515.3 337.2h2.021V359.5h-2.021zM517.3 337.2h2.021V359.5h-2.021zM519.3 337.2h2.021V359.5h-2.021zM521.3 337.2h2.021V359.5h-2.021zM523.3 337.2h2.021V359.5h-2.021zM525.4 337.2h2.021V359.5h-2.021zM527.4 337.2h2.021V359.5h-2.021zM529.4 337.2h2.021V359.5h-2.021zM531.4 337.2h2.021V359.5h-2.021zM533.4 337.2h2.021V359.5h-2.021zM535.5 337.2h2.021V359.5h-2.021zM537.5 337.2h2.021V359.5h-2.021zM539.5 337.2h2.021V359.5h-2.021zM541.5 337.2h2.021V359.5h-2.021zM543.5 337.2h2.021V359.5h-2.021zM545.6 337.2h2.021V359.5h-2.021zM547.6 337.2h2.021V359.5h-2.021zM549.6 337.2h2.021V359.5h-2.021zM551.6 337.2h2.021V359.5h-2.021zM553.6 337.2h2.021V359.5h-2.021zM555.6 337.2h2.021V359.5h-2.021zM557.7 337.2h2.021V359.5h-2.021zM559.7 337.2h2.021V359.5h-2.021zM561.7 337.2h2.021V359.5h-2.021zM563.7 337.2h2.021V359.5h-2.021zM565.7 337.2h2.021V359.5h-2.021zM567.8 337.2h2.021V359.5h-2.021zM569.8 337.2h2.021V359.5h-2.021zM571.8 337.2h2.021V359.5h-2.021zM573.8 337.2h2.021V359.5h-2.021zM575.8 337.2h2.021V359.5h-2.021zM577.9 337.2h2.021V359.5h-2.021zM579.9 337.2h2.021V359.5h-2.021zM581.9 337.2h2.021V359.5h-2.021zM583.9 337.2h2.021V359.5h-2.021zM585.9 337.2h2.021V359.5h-2.021zM588 337.2h2.021V359.5h-2.021zM590 337.2h2.021V359.5h-2.021zM592 337.2h2.021V359.5h-2.021zM594 337.2h2.021V359.5h-2.021zM596 337.2h2.021V359.5h-2.021zM598.1 337.2h2.021V359.5h-2.021zM600.1 337.2h2.021V359.5h-2.021zM602.1 337.2h2.021V359.5h-2.021zM604.1 337.2h2.021V359.5h-2.021zM606.1 337.2h2.021V359.5h-2.021zM608.2 337.2h2.021V359.5h-2.021zM610.2 337.2h2.021V359.5h-2.021zM612.2 337.2h2.021V359.5h-2.021zM614.2 337.2h2.021V359.5h-2.021zM616.2 337.2h2.021V359.5h-2.021zM618.3 337.2h2.021V359.5h-2.021zM620.3 337.2h2.021V359.5h-2.021z" fill="#e59c74" fill-opacity="0.88"/>
<path d="M81.4 337.2V359.5M83.4 337.2V359.5M85.4 337.2V359.5M87.4 337.2V359.5M89.4 337.2V359.5M91.5 337.2V359.5M93.5 337.2V359.5M95.5 337.2V359.5M97.5 337.2V359.5M99.5 337.2V359.5M101.6 337.2V359.5M103.6 337.2V359.5M105.6 337.2V359.5M107.6 337.2V359.5M109.6 337.2V359.5M111.7 337.2V359.5M113.7 337.2V359.5M115.7 337.2V359.5M117.7 337.2V359.5M119.7 337.2V359.5M121.8 337.2V359.5M123.8 337.2V359.5M125.8 337.2V359.5M127.8 337.2V359.5M129.8 337.2V359.5M131.9 337.2V359.5M133.9 337.2V359.5M135.9 337.2V359.5M137.9 337.2V359.5M139.9 337.2V359.5M142 337.2V359.5M144 337.2V359.5M146 337.2V359.5M148 337.2V359.5M150.1 337.2V359.5M152.1 337.2V359.5M154.1 337.2V359.5M156.1 337.2V359.5M158.1 337.2V359.5M160.2 337.2V359.5M162.2 337.2V359.5M164.2 337.2V359.5M166.2 337.2V359.5M168.2 337.2V359.5M170.3 337.2V359.5M172.3 337.2V359.5M174.3 337.2V359.5M176.3 337.2V359.5M178.3 337.2V359.5M180.4 337.2V359.5M182.4 337.2V359.5M184.4 337.2V359.5M186.4 337.2V359.5M188.4 337.2V359.5M190.5 337.2V359.5M192.5 337.2V359.5M194.5 337.2V359.5M196.5 337.2V359.5M198.5 337.2V359.5M200.6 337.2V359.5M202.6 337.2V359.5M204.6 337.2V359.5M206.6 337.2V359.5M208.6 337.2V359.5M210.7 337.2V359.5M212.7 337.2V359.5M214.7 337.2V359.5M216.7 337.2V359.5M218.8 337.2V359.5M220.8 337.2V359.5M222.8 337.2V359.5M224.8 337.2V359.5M226.8 337.2V359.5M228.9 337.2V359.5M230.9 337.2V359.5M232.9 337.2V359.5M234.9 337.2V359.5M236.9 337.2V359.5M239 337.2V359.5M241 337.2V359.5M243 337.2V359.5M245 337.2V359.5M247 337.2V359.5M249.1 337.2V359.5M251.1 337.2V359.5M253.1 337.2V359.5M255.1 337.2V359.5M257.1 337.2V359.5M259.2 337.2V359.5M261.2 337.2V359.5M263.2 337.2V359.5M265.2 337.2V359.5M267.2 337.2V359.5M269.3 337.2V359.5M271.3 337.2V359.5M273.3 337.2V359.5M275.3 337.2V359.5M277.3 337.2V359.5M279.4 337.2V359.5M281.4 337.2V359.5M283.4 337.2V359.5M285.4 337.2V359.5M287.5 337.2V359.5M289.5 337.2V359.5M291.5 337.2V359.5M293.5 337.2V359.5M295.5 337.2V359.5M297.6 337.2V359.5M299.6 337.2V359.5M301.6 337.2V359.5M303.6 337.2V359.5M305.6 337.2V359.5M307.7 337.2V359.5M309.7 337.2V359.5M311.7 337.2V359.5M313.7 337.2V359.5M315.7 337.2V359.5M317.8 337.2V359.5M319.8 337.2V359.5M321.8 337.2V359.5M323.8 337.2V359.5M325.8 337.2V359.5M327.9 337.2V359.5M329.9 337.2V359.5M331.9 337.2V359.5M333.9 337.2V359.5M335.9 337.2V359.5M338 337.2V359.5M340 337.2V359.5M342 337.2V359.5M344 337.2V359.5M346.1 337.2V359.5M348.1 337.2V359.5M350.1 337.2V359.5M352.1 337.2V359.5M354.1 337.2V359.5M356.1 337.2V359.5M358.2 337.2V359.5M360.2 337.2V359.5M362.2 337.2V359.5M364.2 337.2V359.5M366.2 337.2V359.5M368.3 337.2V359.5M370.3 337.2V359.5M372.3 337.2V359.5M374.3 337.2V359.5M376.3 337.2V359.5M378.4 337.2V359.5M380.4 337.2V359.5M382.4 337.2V359.5M384.4 337.2V359.5M386.4 337.2V359.5M388.5 337.2V359.5M390.5 337.2V359.5M392.5 337.2V359.5M394.5 337.2V359.5M396.5 337.2V359.5M398.6 337.2V359.5M400.6 337.2V359.5M402.6 337.2V359.5M404.6 337.2V359.5M406.6 337.2V359.5M408.7 337.2V359.5M410.7 337.2V359.5M412.7 337.2V359.5M414.7 337.2V359.5M416.7 337.2V359.5M418.8 337.2V359.5M420.8 337.2V359.5M422.8 337.2V359.5M424.8 337.2V359.5M426.8 337.2V359.5M428.9 337.2V359.5M430.9 337.2V359.5M432.9 337.2V359.5M434.9 337.2V359.5M436.9 337.2V359.5M439 337.2V359.5M441 337.2V359.5M443 337.2V359.5M445 337.2V359.5M447 337.2V359.5M449.1 337.2V359.5M451.1 337.2V359.5M453.1 337.2V359.5M455.1 337.2V359.5M457.1 337.2V359.5M459.2 337.2V359.5M461.2 337.2V359.5M463.2 337.2V359.5M465.2 337.2V359.5M467.2 337.2V359.5M469.3 337.2V359.5M471.3 337.2V359.5M473.3 337.2V359.5M475.3 337.2V359.5M477.3 337.2V359.5M479.4 337.2V359.5M481.4 337.2V359.5M483.4 337.2V359.5M485.4 337.2V359.5M487.4 337.2V359.5M489.4 337.2V359.5M491.5 337.2V359.5M493.5 337.2V359.5M495.5 337.2V359.5M497.5 337.2V359.5M499.5 337.2V359.5M501.6 337.2V359.5M503.6 337.2V359.5M505.6 337.2V359.5M507.6 337.2V359.5M509.6 337.2V359.5M511.7 337.2V359.5M513.7 337.2V359.5M515.7 337.2V359.5M517.7 337.2V359.5M519.7 337.2V359.5M521.8 337.2V359.5M523.8 337.2V359.5M525.8 337.2V359.5M527.8 337.2V359.5M529.8 337.2V359.5M531.9 337.2V359.5M533.9 337.2V359.5M535.9 337.2V359.5M537.9 337.2V359.5M539.9 337.2V359.5M542 337.2V359.5M544 337.2V359.5M546 337.2V359.5M548 337.2V359.5M550 337.2V359.5M552.1 337.2V359.5M554.1 337.2V359.5M556.1 337.2V359.5M558.1 337.2V359.5M560.1 337.2V359.5M562.2 337.2V359.5M564.2 337.2V359.5M566.2 337.2V359.5M568.2 337.2V359.5M570.2 337.2V359.5M572.3 337.2V359.5M574.3 337.2V359.5M576.3 337.2V359.5M578.3 337.2V359.5M580.3 337.2V359.5M582.4 337.2V359.5M584.4 337.2V359.5M586.4 337.2V359.5M588.4 337.2V359.5M590.4 337.2V359.5M592.5 337.2V359.5M594.5 337.2V359.5M596.5 337.2V359.5M598.5 337.2V359.5M600.5 337.2V359.5M602.6 337.2V359.5M604.6 337.2V359.5M606.6 337.2V359.5M608.6 337.2V359.5M610.6 337.2V359.5M612.7 337.2V359.5M614.7 337.2V359.5M616.7 337.2V359.5M618.7 337.2V359.5M620.7 337.2V359.5" stroke="#999" stroke-opacity="0.5" stroke-width="0.9" fill="none"/>
<path d="M80.9 352.4h2.021M82.9 352.4h2.021M84.9 352.4h2.021M87 352.4h2.021M89 352.4h2.021M91 352.4h2.021M93 352.4h2.021M95 352.4h2.021M97.1 352.4h2.021M99.1 352.4h2.021M101.1 352.4h2.021M103.1 352.4h2.021M105.1 352.4h2.021M107.2 352.4h2.021M109.2 352.4h2.021M111.2 352.4h2.021M113.2 352.4h2.021M115.3 352.4h2.021M117.3 352.4h2.021M119.3 352.4h2.021M121.3 352.4h2.021M123.3 352.4h2.021M125.4 352.4h2.021M127.4 352.4h2.021M129.4 352.4h2.021M131.4 352.4h2.021M133.4 352.4h2.021M135.5 352.4h2.021M137.5 352.4h2.021M139.5 352.4h2.021M141.5 352.4h2.021M143.5 352.4h2.021M145.6 352.4h2.021M147.6 352.4h2.021M149.6 352.4h2.021M151.6 352.4h2.021M153.6 352.4h2.021M155.7 352.4h2.021M157.7 352.4h2.021M159.7 352.4h2.021M161.7 352.4h2.021M163.7 352.4h2.021M165.8 352.4h2.021M167.8 352.4h2.021M169.8 352.4h2.021M171.8 352.4h2.021M173.8 352.4h2.021M175.9 352.4h2.021M177.9 352.4h2.021M179.9 352.4h2.021M181.9 352.4h2.021M184 352.4h2.021M186 352.4h2.021M188 352.4h2.021M190 352.4h2.021M192 352.4h2.021M194.1 352.4h2.021M196.1 352.4h2.021M198.1 352.4h2.021M200.1 352.4h2.021M202.1 352.4h2.021M204.2 352.4h2.021M206.2 352.4h2.021M208.2 352.4h2.021M210.2 352.4h2.021M212.2 352.4h2.021M214.3 352.4h2.021M216.3 352.4h2.021M218.3 352.4h2.021M220.3 352.4h2.021M222.3 352.4h2.021M224.4 352.4h2.021M226.4 352.4h2.021M228.4 352.4h2.021M230.4 352.4h2.021M232.4 352.4h2.021M234.5 352.4h2.021M236.5 352.4h2.021M238.5 352.4h2.021M240.5 352.4h2.021M242.5 352.4h2.021M244.6 352.4h2.021M246.6 352.4h2.021M248.6 352.4h2.021M250.6 352.4h2.021M252.7 352.4h2.021M254.7 352.4h2.021M256.7 352.4h2.021M258.7 352.4h2.021M260.7 352.4h2.021M262.8 352.4h2.021M264.8 352.4h2.021M266.8 352.4h2.021M268.8 352.4h2.021M270.8 352.4h2.021M272.9 352.4h2.021M274.9 352.4h2.021M276.9 352.4h2.021M278.9 352.4h2.021M280.9 352.4h2.021M283 352.4h2.021M285 352.4h2.021M287 352.4h2.021M289 352.4h2.021M291 352.4h2.021M293.1 352.4h2.021M295.1 352.4h2.021M297.1 352.4h2.021M299.1 352.4h2.021M301.1 352.4h2.021M303.2 352.4h2.021M305.2 352.4h2.021M307.2 352.4h2.021M309.2 352.4h2.021M311.2 352.4h2.021M313.3 352.4h2.021M315.3 352.4h2.021M317.3 352.4h2.021M319.3 352.4h2.021M321.4 352.4h2.021M323.4 352.4h2.021M325.4 352.4h2.021M327.4 352.4h2.021M329.4 352.4h2.021M331.5 352.4h2.021M333.5 352.4h2.021M335.5 352.4h2.021M337.5 352.4h2.021M339.5 352.4h2.021M341.6 352.4h2.021M343.6 352.4h2.021M345.6 352.4h2.021M347.6 352.4h2.021M349.6 352.4h2.021M351.7 352.4h2.021M353.7 352.4h2.021M355.7 352.4h2.021M357.7 352.4h2.021M359.7 352.4h2.021M361.8 352.4h2.021M363.8 352.4h2.021M365.8 352.4h2.021M367.8 352.4h2.021M369.8 352.4h2.021M371.9 352.4h2.021M373.9 352.4h2.021M375.9 352.4h2.021M377.9 352.4h2.021M379.9 352.4h2.021M382 352.4h2.021M384 352.4h2.021M386 352.4h2.021M388 352.4h2.021M390 352.4h2.021M392.1 352.4h2.021M394.1 352.4h2.021M396.1 352.4h2.021M398.1 352.4h2.021M400.1 352.4h2.021M402.2 352.4h2.021M404.2 352.4h2.021M406.2 352.4h2.021M408.2 352.4h2.021M410.2 352.4h2.021M412.3 352.4h2.021M414.3 352.4h2.021M416.3 352.4h2.021M418.3 352.4h2.021M420.3 352.4h2.021M422.3 352.4h2.021M424.4 352.4h2.021M426.4 352.4h2.021M428.4 352.4h2.021M430.4 352.4h2.021M432.4 352.4h2.021M434.5 352.4h2.021M436.5 352.4h2.021M438.5 352.4h2.021M440.5 352.4h2.021M442.5 352.4h2.021M444.6 352.4h2.021M446.6 352.4h2.021M448.6 352.4h2.021M450.6 352.4h2.021M452.6 352.4h2.021M454.7 352.4h2.021M456.7 352.4h2.021M458.7 352.4h2.021M460.7 352.4h2.021M462.7 352.4h2.021M464.8 352.4h2.021M466.8 352.4h2.021M468.8 352.4h2.021M470.8 352.4h2.021M472.8 352.4h2.021M474.9 352.4h2.021M476.9 352.4h2.021M478.9 352.4h2.021M480.9 352.4h2.021M482.9 352.4h2.021M485 352.4h2.021M487 352.4h2.021M489 352.4h2.021M491 352.4h2.021M493 352.4h2.021M495.1 352.4h2.021M497.1 352.4h2.021M499.1 352.4h2.021M501.1 352.4h2.021M503.1 352.4h2.021M505.2 352.4h2.021M507.2 352.4h2.021M509.2 352.4h2.021M511.2 352.4h2.021M513.2 352.4h2.021M515.3 352.4h2.021M517.3 352.4h2.021M519.3 352.4h2.021M521.3 352.4h2.021M523.3 352.4h2.021M525.4 352.4h2.021M527.4 352.4h2.021M529.4 352.4h2.021M531.4 352.4h2.021M533.4 352.4h2.021M535.5 352.4h2.021M537.5 352.4h2.021M539.5 352.4h2.021M541.5 352.4h2.021M543.5 352.4h2.021M545.6 352.4h2.021M547.6 352.4h2.021M549.6 352.4h2.021M551.6 352.4h2.021M553.6 352.4h2.021M555.6 352.4h2.021M557.7 352.4h2.021M559.7 352.4h2.021M561.7 352.4h2.021M563.7 352.4h2.021M565.7 352.4h2.021M567.8 352.4h2.021M569.8 352.4h2.021M571.8 352.4h2.021M573.8 352.4h2.021M575.8 352.4h2.021M577.9 352.4h2.021M579.9 352.4h2.021M581.9 352.4h2.021M583.9 352.4h2.021M585.9 352.4h2.021M588 352.4h2.021M590 352.4h2.021M592 352.4h2.021M594 352.4h2.021M596 352.4h2.021M598.1 352.4h2.021M600.1 352.4h2.021M602.1 352.4h2.021M604.1 352.4h2.021M606.1 352.4h2.021M608.2 352.4h2.021M610.2 352.4h2.021M612.2 352.4h2.021M614.2 352.4h2.021M616.2 352.4h2.021M618.3 352.4h2.021M620.3 352.4h2.021" stroke="#55655a" stroke-width="0.7" opacity="0.6" stroke-dasharray="none" fill="none"/>
<path d="M80.6 230.4V405M73.7 404.2H622.9" stroke="#1a1a1a" stroke-width="1.5" fill="none"/>
<path d="M73.7 404.2H80.6" stroke="#1a1a1a" stroke-width="1.3"/>
<text transform="translate(69.5 404.5) scale(0.92 1)" font-family="Liberation Sans" font-size="10.2" fill="#222" text-anchor="end">0</text>
<path d="M73.7 346.6H80.6" stroke="#1a1a1a" stroke-width="1.3"/>
<text transform="translate(69.5 348.8) scale(0.92 1)" font-family="Liberation Sans" font-size="10.2" fill="#222" text-anchor="end">5</text>
<path d="M73.7 288.9H80.6" stroke="#1a1a1a" stroke-width="1.3"/>
<text transform="translate(69.5 293.1) scale(0.92 1)" font-family="Liberation Sans" font-size="10.2" fill="#222" text-anchor="end">10</text>
<path d="M73.7 231.2H80.6" stroke="#1a1a1a" stroke-width="1.3"/>
<text transform="translate(69.5 237.4) scale(0.92 1)" font-family="Liberation Sans" font-size="10.2" fill="#222" text-anchor="end">15</text>
<text x="0.1" y="222" font-family="Liberation Sans" font-size="22.3" fill="#111">B</text>
<text x="31.6" y="219.6" font-family="Liberation Sans" font-size="12.2" fill="#222">After Normalization</text>
<path d="M288.9 240.0v11.5M376.1 240.0v11.5" stroke="#d8d8d8" stroke-width="0.6"/>
<rect x="284.1" y="242.4" width="9.7" height="6.2" fill="#7aa486"/>
<text x="302.6" y="249.0" font-family="Liberation Sans" font-size="10" fill="#222">GSE68004</text>
<rect x="371.2" y="242.4" width="9.8" height="6.2" fill="#e59c74"/>
<text x="385.7" y="249.0" font-family="Liberation Sans" font-size="10" fill="#222">GSE73461</text>
<path d="M72.2 424.8V611M146.8 424.8V611M221.4 424.8V611M49.4 603.9H273M49.4 573H273M49.4 542H273M49.4 511.1H273M49.4 480.1H273M49.4 449.2H273" stroke="#f2f2f2" stroke-width="0.6" fill="none"/>
<path d="M109.5 424.8V611M184.1 424.8V611M258.7 424.8V611M49.4 588.4H273M49.4 557.5H273M49.4 526.5H273M49.4 495.6H273M49.4 464.6H273M49.4 433.7H273" stroke="#ebebeb" stroke-width="1" fill="none"/>
<ellipse cx="157.41" cy="531.57" rx="23.49" ry="73.01" transform="rotate(-8.41 157.41 531.57)" fill="#6f9e80" fill-opacity="0.1" stroke="#6f9e80" stroke-width="0.9"/>
<ellipse cx="209.6" cy="522.17" rx="48.36" ry="64.73" transform="rotate(-31.83 209.6 522.17)" fill="#f19a68" fill-opacity="0.1" stroke="#f19a68" stroke-width="0.9"/>
<path d="M133.6 448.4a1.45 1.45 0 1 0 2.9 0a1.45 1.45 0 1 0-2.9 0M107.6 455.2a1.45 1.45 0 1 0 2.9 0a1.45 1.45 0 1 0-2.9 0M150.4 469.1a1.45 1.45 0 1 0 2.9 0a1.45 1.45 0 1 0-2.9 0M150.7 479.1a1.45 1.45 0 1 0 2.9 0a1.45 1.45 0 1 0-2.9 0M150.7 483.5a1.45 1.45 0 1 0 2.9 0a1.45 1.45 0 1 0-2.9 0M153.1 484a1.45 1.45 0 1 0 2.9 0a1.45 1.45 0 1 0-2.9 0M149.5 485.9a1.45 1.45 0 1 0 2.9 0a1.45 1.45 0 1 0-2.9 0M159.1 490.5a1.45 1.45 0 1 0 2.9 0a1.45 1.45 0 1 0-2.9 0M142.6 494.2a1.45 1.45 0 1 0 2.9 0a1.45 1.45 0 1 0-2.9 0M148.8 493.8a1.45 1.45 0 1 0 2.9 0a1.45 1.45 0 1 0-2.9 0M151.2 493a1.45 1.45 0 1 0 2.9 0a1.45 1.45 0 1 0-2.9 0M152.6 495.9a1.45 1.45 0 1 0 2.9 0a1.45 1.45 0 1 0-2.9 0M157.4 498.9a1.45 1.45 0 1 0 2.9 0a1.45 1.45 0 1 0-2.9 0M162.6 500.6a1.45 1.45 0 1 0 2.9 0a1.45 1.45 0 1 0-2.9 0M141.7 500.5a1.45 1.45 0 1 0 2.9 0a1.45 1.45 0 1 0-2.9 0M144 502.1a1.45 1.45 0 1 0 2.9 0a1.45 1.45 0 1 0-2.9 0M138.8 501.6a1.45 1.45 0 1 0 2.9 0a1.45 1.45 0 1 0-2.9 0M136 504a1.45 1.45 0 1 0 2.9 0a1.45 1.45 0 1 0-2.9 0M148.8 500.9a1.45 1.45 0 1 0 2.9 0a1.45 1.45 0 1 0-2.9 0M153.1 504.3a1.45 1.45 0 1 0 2.9 0a1.45 1.45 0 1 0-2.9 0M151.6 506.3a1.45 1.45 0 1 0 2.9 0a1.45 1.45 0 1 0-2.9 0M138.8 506.3a1.45 1.45 0 1 0 2.9 0a1.45 1.45 0 1 0-2.9 0M162.1 506.3a1.45 1.45 0 1 0 2.9 0a1.45 1.45 0 1 0-2.9 0M166.4 508.7a1.45 1.45 0 1 0 2.9 0a1.45 1.45 0 1 0-2.9 0M165.9 510.6a1.45 1.45 0 1 0 2.9 0a1.45 1.45 0 1 0-2.9 0M150.7 510.1a1.45 1.45 0 1 0 2.9 0a1.45 1.45 0 1 0-2.9 0M149.2 512a1.45 1.45 0 1 0 2.9 0a1.45 1.45 0 1 0-2.9 0M144.5 512.3a1.45 1.45 0 1 0 2.9 0a1.45 1.45 0 1 0-2.9 0M158.8 511.1a1.45 1.45 0 1 0 2.9 0a1.45 1.45 0 1 0-2.9 0M160.7 512.5a1.45 1.45 0 1 0 2.9 0a1.45 1.45 0 1 0-2.9 0M162.6 513.5a1.45 1.45 0 1 0 2.9 0a1.45 1.45 0 1 0-2.9 0M155 513.2a1.45 1.45 0 1 0 2.9 0a1.45 1.45 0 1 0-2.9 0M159.7 515.7a1.45 1.45 0 1 0 2.9 0a1.45 1.45 0 1 0-2.9 0M163.5 516.7a1.45 1.45 0 1 0 2.9 0a1.45 1.45 0 1 0-2.9 0M160.7 519a1.45 1.45 0 1 0 2.9 0a1.45 1.45 0 1 0-2.9 0M162.6 520a1.45 1.45 0 1 0 2.9 0a1.45 1.45 0 1 0-2.9 0M141.2 516.7a1.45 1.45 0 1 0 2.9 0a1.45 1.45 0 1 0-2.9 0M143.1 518.1a1.45 1.45 0 1 0 2.9 0a1.45 1.45 0 1 0-2.9 0M148.2 520.9a1.45 1.45 0 1 0 2.9 0a1.45 1.45 0 1 0-2.9 0M148.8 522.8a1.45 1.45 0 1 0 2.9 0a1.45 1.45 0 1 0-2.9 0M154 520a1.45 1.45 0 1 0 2.9 0a1.45 1.45 0 1 0-2.9 0M168.8 521.2a1.45 1.45 0 1 0 2.9 0a1.45 1.45 0 1 0-2.9 0M142.1 525.2a1.45 1.45 0 1 0 2.9 0a1.45 1.45 0 1 0-2.9 0M147.8 524.7a1.45 1.45 0 1 0 2.9 0a1.45 1.45 0 1 0-2.9 0M149.2 526.6a1.45 1.45 0 1 0 2.9 0a1.45 1.45 0 1 0-2.9 0M148.8 528.5a1.45 1.45 0 1 0 2.9 0a1.45 1.45 0 1 0-2.9 0M150.7 530a1.45 1.45 0 1 0 2.9 0a1.45 1.45 0 1 0-2.9 0M155.9 524.7a1.45 1.45 0 1 0 2.9 0a1.45 1.45 0 1 0-2.9 0M156.9 527.6a1.45 1.45 0 1 0 2.9 0a1.45 1.45 0 1 0-2.9 0M162.6 524.3a1.45 1.45 0 1 0 2.9 0a1.45 1.45 0 1 0-2.9 0M165.4 524.7a1.45 1.45 0 1 0 2.9 0a1.45 1.45 0 1 0-2.9 0M155.5 530.4a1.45 1.45 0 1 0 2.9 0a1.45 1.45 0 1 0-2.9 0M154 532.3a1.45 1.45 0 1 0 2.9 0a1.45 1.45 0 1 0-2.9 0M153.1 533.8a1.45 1.45 0 1 0 2.9 0a1.45 1.45 0 1 0-2.9 0M151.6 535.2a1.45 1.45 0 1 0 2.9 0a1.45 1.45 0 1 0-2.9 0M154.5 534.7a1.45 1.45 0 1 0 2.9 0a1.45 1.45 0 1 0-2.9 0M162.6 529a1.45 1.45 0 1 0 2.9 0a1.45 1.45 0 1 0-2.9 0M163.5 530.9a1.45 1.45 0 1 0 2.9 0a1.45 1.45 0 1 0-2.9 0M161.6 532.8a1.45 1.45 0 1 0 2.9 0a1.45 1.45 0 1 0-2.9 0M169.2 529a1.45 1.45 0 1 0 2.9 0a1.45 1.45 0 1 0-2.9 0M168.8 531.9a1.45 1.45 0 1 0 2.9 0a1.45 1.45 0 1 0-2.9 0M172.6 535.7a1.45 1.45 0 1 0 2.9 0a1.45 1.45 0 1 0-2.9 0M164 537.6a1.45 1.45 0 1 0 2.9 0a1.45 1.45 0 1 0-2.9 0M165.9 538.5a1.45 1.45 0 1 0 2.9 0a1.45 1.45 0 1 0-2.9 0M166.9 540.4a1.45 1.45 0 1 0 2.9 0a1.45 1.45 0 1 0-2.9 0M165.4 542.3a1.45 1.45 0 1 0 2.9 0a1.45 1.45 0 1 0-2.9 0M150.7 543.3a1.45 1.45 0 1 0 2.9 0a1.45 1.45 0 1 0-2.9 0M149.2 545.2a1.45 1.45 0 1 0 2.9 0a1.45 1.45 0 1 0-2.9 0M143.1 547.6a1.45 1.45 0 1 0 2.9 0a1.45 1.45 0 1 0-2.9 0M166.9 545.7a1.45 1.45 0 1 0 2.9 0a1.45 1.45 0 1 0-2.9 0M169.2 546.6a1.45 1.45 0 1 0 2.9 0a1.45 1.45 0 1 0-2.9 0M167.2 548.5a1.45 1.45 0 1 0 2.9 0a1.45 1.45 0 1 0-2.9 0M149.7 553.3a1.45 1.45 0 1 0 2.9 0a1.45 1.45 0 1 0-2.9 0M153.1 554.2a1.45 1.45 0 1 0 2.9 0a1.45 1.45 0 1 0-2.9 0M155 553.3a1.45 1.45 0 1 0 2.9 0a1.45 1.45 0 1 0-2.9 0M157.4 554.2a1.45 1.45 0 1 0 2.9 0a1.45 1.45 0 1 0-2.9 0M156.4 556.6a1.45 1.45 0 1 0 2.9 0a1.45 1.45 0 1 0-2.9 0M144 554.2a1.45 1.45 0 1 0 2.9 0a1.45 1.45 0 1 0-2.9 0M146.9 556.6a1.45 1.45 0 1 0 2.9 0a1.45 1.45 0 1 0-2.9 0M166.9 556.6a1.45 1.45 0 1 0 2.9 0a1.45 1.45 0 1 0-2.9 0M150.8 560.9a1.45 1.45 0 1 0 2.9 0a1.45 1.45 0 1 0-2.9 0M150.8 563.5a1.45 1.45 0 1 0 2.9 0a1.45 1.45 0 1 0-2.9 0M151.2 565.3a1.45 1.45 0 1 0 2.9 0a1.45 1.45 0 1 0-2.9 0M156.4 560.9a1.45 1.45 0 1 0 2.9 0a1.45 1.45 0 1 0-2.9 0M166.1 561.3a1.45 1.45 0 1 0 2.9 0a1.45 1.45 0 1 0-2.9 0M170.9 562.2a1.45 1.45 0 1 0 2.9 0a1.45 1.45 0 1 0-2.9 0M170.9 566.1a1.45 1.45 0 1 0 2.9 0a1.45 1.45 0 1 0-2.9 0M151.6 568.3a1.45 1.45 0 1 0 2.9 0a1.45 1.45 0 1 0-2.9 0M153.8 567a1.45 1.45 0 1 0 2.9 0a1.45 1.45 0 1 0-2.9 0M155.6 571a1.45 1.45 0 1 0 2.9 0a1.45 1.45 0 1 0-2.9 0M149.9 573.1a1.45 1.45 0 1 0 2.9 0a1.45 1.45 0 1 0-2.9 0M156 574.9a1.45 1.45 0 1 0 2.9 0a1.45 1.45 0 1 0-2.9 0M163.5 573.1a1.45 1.45 0 1 0 2.9 0a1.45 1.45 0 1 0-2.9 0M165.6 573a1.45 1.45 0 1 0 2.9 0a1.45 1.45 0 1 0-2.9 0M167.8 571.2a1.45 1.45 0 1 0 2.9 0a1.45 1.45 0 1 0-2.9 0M172.2 573.1a1.45 1.45 0 1 0 2.9 0a1.45 1.45 0 1 0-2.9 0M170 574.9a1.45 1.45 0 1 0 2.9 0a1.45 1.45 0 1 0-2.9 0M175.2 569.2a1.45 1.45 0 1 0 2.9 0a1.45 1.45 0 1 0-2.9 0M173.1 578.6a1.45 1.45 0 1 0 2.9 0a1.45 1.45 0 1 0-2.9 0M149.9 584.1a1.45 1.45 0 1 0 2.9 0a1.45 1.45 0 1 0-2.9 0M141.8 586.1a1.45 1.45 0 1 0 2.9 0a1.45 1.45 0 1 0-2.9 0M154.2 587.2a1.45 1.45 0 1 0 2.9 0a1.45 1.45 0 1 0-2.9 0M152.1 602.7a1.45 1.45 0 1 0 2.9 0a1.45 1.45 0 1 0-2.9 0" fill="#6b9b7b"/>
<path d="M178.1 431.3l1.95 3.3h-3.9zM114.3 468.3l1.95 3.3h-3.9zM59 570.3l1.95 3.3h-3.9zM179.3 470.5l1.95 3.3h-3.9zM181.1 511.3l1.95 3.3h-3.9zM179.7 519.7l1.95 3.3h-3.9zM184 522.6l1.95 3.3h-3.9zM149.2 539.2l1.95 3.3h-3.9zM178.2 547.8l1.95 3.3h-3.9zM190.5 472.1l1.95 3.3h-3.9zM198.1 475.9l1.95 3.3h-3.9zM191.6 477.3l1.95 3.3h-3.9zM189 480l1.95 3.3h-3.9zM195.2 479.4l1.95 3.3h-3.9zM197.6 482.3l1.95 3.3h-3.9zM203.8 479.7l1.95 3.3h-3.9zM205.2 481.6l1.95 3.3h-3.9zM202.5 485.7l1.95 3.3h-3.9zM212.3 488.5l1.95 3.3h-3.9zM212.3 491.1l1.95 3.3h-3.9zM210.9 493.3l1.95 3.3h-3.9zM223.3 493l1.95 3.3h-3.9zM191.4 494.4l1.95 3.3h-3.9zM199 493.7l1.95 3.3h-3.9zM203.3 494.2l1.95 3.3h-3.9zM204.2 495.9l1.95 3.3h-3.9zM206.1 495.4l1.95 3.3h-3.9zM207.6 497.3l1.95 3.3h-3.9zM210.4 498.2l1.95 3.3h-3.9zM197.1 497.3l1.95 3.3h-3.9zM218 499.2l1.95 3.3h-3.9zM222.8 498.7l1.95 3.3h-3.9zM221.4 501.6l1.95 3.3h-3.9zM206.1 505.4l1.95 3.3h-3.9zM211.4 507.7l1.95 3.3h-3.9zM215.2 504.4l1.95 3.3h-3.9zM217.6 506.3l1.95 3.3h-3.9zM214.2 509.2l1.95 3.3h-3.9zM216.1 510.1l1.95 3.3h-3.9zM213.3 511.5l1.95 3.3h-3.9zM215.7 512.5l1.95 3.3h-3.9zM225.6 507.3l1.95 3.3h-3.9zM197.1 508.7l1.95 3.3h-3.9zM190.9 513l1.95 3.3h-3.9zM204.2 513l1.95 3.3h-3.9zM203.3 515.3l1.95 3.3h-3.9zM222.3 513.9l1.95 3.3h-3.9zM229.4 512.5l1.95 3.3h-3.9zM218 516.3l1.95 3.3h-3.9zM219.9 516.8l1.95 3.3h-3.9zM209 517.3l1.95 3.3h-3.9zM206.6 520l1.95 3.3h-3.9zM209.5 520l1.95 3.3h-3.9zM211.4 520.4l1.95 3.3h-3.9zM205.2 520.9l1.95 3.3h-3.9zM216.1 520l1.95 3.3h-3.9zM218 520.4l1.95 3.3h-3.9zM219.9 520l1.95 3.3h-3.9zM227.5 520.9l1.95 3.3h-3.9zM188.6 522.3l1.95 3.3h-3.9zM205.7 524.7l1.95 3.3h-3.9zM204.7 527.1l1.95 3.3h-3.9zM222.3 522.8l1.95 3.3h-3.9zM221.4 526.1l1.95 3.3h-3.9zM233.7 525.7l1.95 3.3h-3.9zM229 527.6l1.95 3.3h-3.9zM223.7 529.5l1.95 3.3h-3.9zM222.3 530.4l1.95 3.3h-3.9zM224.7 531.4l1.95 3.3h-3.9zM199.5 531.8l1.95 3.3h-3.9zM207.1 530.9l1.95 3.3h-3.9zM205.7 532.8l1.95 3.3h-3.9zM204.2 534.7l1.95 3.3h-3.9zM213.8 530.9l1.95 3.3h-3.9zM212.8 533.3l1.95 3.3h-3.9zM216.1 534.7l1.95 3.3h-3.9zM217.1 536.6l1.95 3.3h-3.9zM214.2 537.5l1.95 3.3h-3.9zM218.5 537.5l1.95 3.3h-3.9zM220.9 536.6l1.95 3.3h-3.9zM228.5 533.7l1.95 3.3h-3.9zM228 537.5l1.95 3.3h-3.9zM234.7 534.7l1.95 3.3h-3.9zM194.3 535.6l1.95 3.3h-3.9zM188.7 537.5l1.95 3.3h-3.9zM199 539l1.95 3.3h-3.9zM204.7 538.5l1.95 3.3h-3.9zM225.2 539.9l1.95 3.3h-3.9zM220.9 540.9l1.95 3.3h-3.9zM216.6 541.8l1.95 3.3h-3.9zM210 545.2l1.95 3.3h-3.9zM211.4 546.6l1.95 3.3h-3.9zM215.7 545.2l1.95 3.3h-3.9zM219.9 544.2l1.95 3.3h-3.9zM220.4 546.1l1.95 3.3h-3.9zM199 547.1l1.95 3.3h-3.9zM224.2 547.1l1.95 3.3h-3.9zM226.6 548.5l1.95 3.3h-3.9zM229.4 549l1.95 3.3h-3.9zM233.2 547.5l1.95 3.3h-3.9zM218 549.9l1.95 3.3h-3.9zM216.1 551.8l1.95 3.3h-3.9zM224.2 552.8l1.95 3.3h-3.9zM234.2 554.2l1.95 3.3h-3.9zM238.5 555.1l1.95 3.3h-3.9zM207.1 560.8l1.95 3.3h-3.9zM226.1 559.9l1.95 3.3h-3.9zM236.6 558.9l1.95 3.3h-3.9zM236.1 563.7l1.95 3.3h-3.9zM233.7 570.3l1.95 3.3h-3.9z" fill="#ef9462"/>
<path d="M49.4 526.5H273M184.1 424.8V611" stroke="#1a1a1a" stroke-width="1.1" stroke-dasharray="3.5 3.1" fill="none"/>
<rect x="49.4" y="424.8" width="223.6" height="186.2" fill="none" stroke="#8a8a8a" stroke-width="1"/>
<path d="M109.5 611v2.8M184.1 611v2.8M258.7 611v2.8M49.4 588.4h-2.8M49.4 557.5h-2.8M49.4 526.5h-2.8M49.4 495.6h-2.8M49.4 464.6h-2.8M49.4 433.7h-2.8" stroke="#333" stroke-width="0.9" fill="none"/>
<text x="109.5" y="620.1" font-family="Liberation Sans" font-size="6.9" fill="#4d4d4d" text-anchor="middle">−200</text>
<text x="184.1" y="620.1" font-family="Liberation Sans" font-size="6.9" fill="#4d4d4d" text-anchor="middle">0</text>
<text x="258.7" y="620.1" font-family="Liberation Sans" font-size="6.9" fill="#4d4d4d" text-anchor="middle">200</text>
<text x="45.5" y="590.8" font-family="Liberation Sans" font-size="6.9" fill="#4d4d4d" text-anchor="end">−100</text>
<text x="45.5" y="559.9" font-family="Liberation Sans" font-size="6.9" fill="#4d4d4d" text-anchor="end">−50</text>
<text x="45.5" y="528.9" font-family="Liberation Sans" font-size="6.9" fill="#4d4d4d" text-anchor="end">0</text>
<text x="45.5" y="498" font-family="Liberation Sans" font-size="6.9" fill="#4d4d4d" text-anchor="end">50</text>
<text x="45.5" y="467" font-family="Liberation Sans" font-size="6.9" fill="#4d4d4d" text-anchor="end">100</text>
<text x="45.5" y="436.1" font-family="Liberation Sans" font-size="6.9" fill="#4d4d4d" text-anchor="end">150</text>
<text x="161.2" y="628.3" font-family="Liberation Sans" font-size="8.2" fill="#1a1a1a" text-anchor="middle">Dim1 (22.4%)</text>
<text x="0" y="0" transform="translate(26.4 517.9) rotate(-90)" font-family="Liberation Sans" font-size="7.7" fill="#1a1a1a" text-anchor="middle">Dim2 (6.1%)</text>
<text x="49.4" y="419" font-family="Liberation Sans" font-size="9.8" fill="#1a1a1a">Before Normalization</text>
<text x="0" y="426.4" font-family="Liberation Sans" font-size="22.3" fill="#111">C</text>
<text x="285.7" y="507.6" font-family="Liberation Sans" font-size="8.3" fill="#1a1a1a">Group</text>
<rect x="286.2" y="512.3" width="11.6" height="11.2" fill="#f2f5f3" stroke="#6f9e80" stroke-width="1"/>
<rect x="286.2" y="524" width="11.6" height="11.2" fill="#fdf4ef" stroke="#f19a68" stroke-width="1"/>
<circle cx="292.0" cy="517.9" r="2.6" fill="#6b9b7b"/>
<path d="M292.0 526.2l3.4 5.4h-6.8z" fill="#ef9462"/>
<text x="302.6" y="520.4" font-family="Liberation Sans" font-size="6.8" fill="#1a1a1a">GSE68004</text>
<text x="302.6" y="532.2" font-family="Liberation Sans" font-size="6.8" fill="#1a1a1a">GSE73461</text>
<path d="M439.7 424.7V611M496.2 424.7V611M552.8 424.7V611M609.3 424.7V611M396.3 582.4H620.2M396.3 545.2H620.2M396.3 508H620.2M396.3 470.9H620.2M396.3 433.7H620.2" stroke="#f2f2f2" stroke-width="0.6" fill="none"/>
<path d="M411.4 424.7V611M467.9 424.7V611M524.5 424.7V611M581 424.7V611M396.3 601H620.2M396.3 563.8H620.2M396.3 526.6H620.2M396.3 489.5H620.2M396.3 452.3H620.2" stroke="#ebebeb" stroke-width="1" fill="none"/>
<ellipse cx="524.06" cy="562.63" rx="85.52" ry="37.96" transform="rotate(-4.74 524.06 562.63)" fill="#6f9e80" fill-opacity="0.1" stroke="#6f9e80" stroke-width="0.9"/>
<ellipse cx="524.15" cy="564.74" rx="70.49" ry="37.55" transform="rotate(8.33 524.15 564.74)" fill="#f19a68" fill-opacity="0.1" stroke="#f19a68" stroke-width="0.9"/>
<path d="M404.7 523.2a1.45 1.45 0 1 0 2.9 0a1.45 1.45 0 1 0-2.9 0M424.9 577.7a1.45 1.45 0 1 0 2.9 0a1.45 1.45 0 1 0-2.9 0M466.8 545.3a1.45 1.45 0 1 0 2.9 0a1.45 1.45 0 1 0-2.9 0M475.2 546.1a1.45 1.45 0 1 0 2.9 0a1.45 1.45 0 1 0-2.9 0M477.9 542.8a1.45 1.45 0 1 0 2.9 0a1.45 1.45 0 1 0-2.9 0M466.8 571.6a1.45 1.45 0 1 0 2.9 0a1.45 1.45 0 1 0-2.9 0M467.9 572.7a1.45 1.45 0 1 0 2.9 0a1.45 1.45 0 1 0-2.9 0M477.9 576.6a1.45 1.45 0 1 0 2.9 0a1.45 1.45 0 1 0-2.9 0M472.1 579.9a1.45 1.45 0 1 0 2.9 0a1.45 1.45 0 1 0-2.9 0M466.4 583.3a1.45 1.45 0 1 0 2.9 0a1.45 1.45 0 1 0-2.9 0M474.1 585.3a1.45 1.45 0 1 0 2.9 0a1.45 1.45 0 1 0-2.9 0M482.8 541a1.45 1.45 0 1 0 2.9 0a1.45 1.45 0 1 0-2.9 0M482.2 546.1a1.45 1.45 0 1 0 2.9 0a1.45 1.45 0 1 0-2.9 0M479.6 548.8a1.45 1.45 0 1 0 2.9 0a1.45 1.45 0 1 0-2.9 0M484.2 566.3a1.45 1.45 0 1 0 2.9 0a1.45 1.45 0 1 0-2.9 0M481.1 569.2a1.45 1.45 0 1 0 2.9 0a1.45 1.45 0 1 0-2.9 0M479.6 577.9a1.45 1.45 0 1 0 2.9 0a1.45 1.45 0 1 0-2.9 0M483.1 581.4a1.45 1.45 0 1 0 2.9 0a1.45 1.45 0 1 0-2.9 0M508.1 541.2a1.45 1.45 0 1 0 2.9 0a1.45 1.45 0 1 0-2.9 0M493.2 549.7a1.45 1.45 0 1 0 2.9 0a1.45 1.45 0 1 0-2.9 0M498.2 547.6a1.45 1.45 0 1 0 2.9 0a1.45 1.45 0 1 0-2.9 0M500.2 548.4a1.45 1.45 0 1 0 2.9 0a1.45 1.45 0 1 0-2.9 0M497.7 551.6a1.45 1.45 0 1 0 2.9 0a1.45 1.45 0 1 0-2.9 0M509.7 549.1a1.45 1.45 0 1 0 2.9 0a1.45 1.45 0 1 0-2.9 0M512.2 546.5a1.45 1.45 0 1 0 2.9 0a1.45 1.45 0 1 0-2.9 0M515.3 545.9a1.45 1.45 0 1 0 2.9 0a1.45 1.45 0 1 0-2.9 0M512.8 551.6a1.45 1.45 0 1 0 2.9 0a1.45 1.45 0 1 0-2.9 0M519.1 551.4a1.45 1.45 0 1 0 2.9 0a1.45 1.45 0 1 0-2.9 0M522.9 547.2a1.45 1.45 0 1 0 2.9 0a1.45 1.45 0 1 0-2.9 0M524.8 547.8a1.45 1.45 0 1 0 2.9 0a1.45 1.45 0 1 0-2.9 0M525.5 549.7a1.45 1.45 0 1 0 2.9 0a1.45 1.45 0 1 0-2.9 0M502.1 558.6a1.45 1.45 0 1 0 2.9 0a1.45 1.45 0 1 0-2.9 0M507.8 560.5a1.45 1.45 0 1 0 2.9 0a1.45 1.45 0 1 0-2.9 0M491.2 567.5a1.45 1.45 0 1 0 2.9 0a1.45 1.45 0 1 0-2.9 0M493.2 571.3a1.45 1.45 0 1 0 2.9 0a1.45 1.45 0 1 0-2.9 0M493.9 573.2a1.45 1.45 0 1 0 2.9 0a1.45 1.45 0 1 0-2.9 0M502.1 567.5a1.45 1.45 0 1 0 2.9 0a1.45 1.45 0 1 0-2.9 0M502.8 570.6a1.45 1.45 0 1 0 2.9 0a1.45 1.45 0 1 0-2.9 0M506.6 568.7a1.45 1.45 0 1 0 2.9 0a1.45 1.45 0 1 0-2.9 0M511.6 568.7a1.45 1.45 0 1 0 2.9 0a1.45 1.45 0 1 0-2.9 0M514.1 570.6a1.45 1.45 0 1 0 2.9 0a1.45 1.45 0 1 0-2.9 0M515.3 568.1a1.45 1.45 0 1 0 2.9 0a1.45 1.45 0 1 0-2.9 0M517.2 564.9a1.45 1.45 0 1 0 2.9 0a1.45 1.45 0 1 0-2.9 0M522.9 561.8a1.45 1.45 0 1 0 2.9 0a1.45 1.45 0 1 0-2.9 0M519.8 571.3a1.45 1.45 0 1 0 2.9 0a1.45 1.45 0 1 0-2.9 0M523.6 571.9a1.45 1.45 0 1 0 2.9 0a1.45 1.45 0 1 0-2.9 0M505.2 572.5a1.45 1.45 0 1 0 2.9 0a1.45 1.45 0 1 0-2.9 0M498.2 575.1a1.45 1.45 0 1 0 2.9 0a1.45 1.45 0 1 0-2.9 0M500.8 575.7a1.45 1.45 0 1 0 2.9 0a1.45 1.45 0 1 0-2.9 0M502.8 575.7a1.45 1.45 0 1 0 2.9 0a1.45 1.45 0 1 0-2.9 0M502.1 579.5a1.45 1.45 0 1 0 2.9 0a1.45 1.45 0 1 0-2.9 0M500.2 581.4a1.45 1.45 0 1 0 2.9 0a1.45 1.45 0 1 0-2.9 0M510.4 575.7a1.45 1.45 0 1 0 2.9 0a1.45 1.45 0 1 0-2.9 0M512.2 575.7a1.45 1.45 0 1 0 2.9 0a1.45 1.45 0 1 0-2.9 0M514.1 577a1.45 1.45 0 1 0 2.9 0a1.45 1.45 0 1 0-2.9 0M511.6 579.5a1.45 1.45 0 1 0 2.9 0a1.45 1.45 0 1 0-2.9 0M518.5 576.3a1.45 1.45 0 1 0 2.9 0a1.45 1.45 0 1 0-2.9 0M517.9 579.5a1.45 1.45 0 1 0 2.9 0a1.45 1.45 0 1 0-2.9 0M524.2 578.2a1.45 1.45 0 1 0 2.9 0a1.45 1.45 0 1 0-2.9 0M491.2 586.5a1.45 1.45 0 1 0 2.9 0a1.45 1.45 0 1 0-2.9 0M493.2 586.5a1.45 1.45 0 1 0 2.9 0a1.45 1.45 0 1 0-2.9 0M507.8 585.8a1.45 1.45 0 1 0 2.9 0a1.45 1.45 0 1 0-2.9 0M510.9 584.6a1.45 1.45 0 1 0 2.9 0a1.45 1.45 0 1 0-2.9 0M516 586.5a1.45 1.45 0 1 0 2.9 0a1.45 1.45 0 1 0-2.9 0M514.1 589.6a1.45 1.45 0 1 0 2.9 0a1.45 1.45 0 1 0-2.9 0M522.9 586.5a1.45 1.45 0 1 0 2.9 0a1.45 1.45 0 1 0-2.9 0M536.2 539.6a1.45 1.45 0 1 0 2.9 0a1.45 1.45 0 1 0-2.9 0M537.4 540.8a1.45 1.45 0 1 0 2.9 0a1.45 1.45 0 1 0-2.9 0M535.5 544.6a1.45 1.45 0 1 0 2.9 0a1.45 1.45 0 1 0-2.9 0M549.5 540.8a1.45 1.45 0 1 0 2.9 0a1.45 1.45 0 1 0-2.9 0M544.4 544a1.45 1.45 0 1 0 2.9 0a1.45 1.45 0 1 0-2.9 0M557.1 543.4a1.45 1.45 0 1 0 2.9 0a1.45 1.45 0 1 0-2.9 0M556.5 545.3a1.45 1.45 0 1 0 2.9 0a1.45 1.45 0 1 0-2.9 0M560.9 542.1a1.45 1.45 0 1 0 2.9 0a1.45 1.45 0 1 0-2.9 0M566.6 543.4a1.45 1.45 0 1 0 2.9 0a1.45 1.45 0 1 0-2.9 0M567.9 545.9a1.45 1.45 0 1 0 2.9 0a1.45 1.45 0 1 0-2.9 0M567.2 547.6a1.45 1.45 0 1 0 2.9 0a1.45 1.45 0 1 0-2.9 0M571.8 542.1a1.45 1.45 0 1 0 2.9 0a1.45 1.45 0 1 0-2.9 0M574.2 545.9a1.45 1.45 0 1 0 2.9 0a1.45 1.45 0 1 0-2.9 0M578 537a1.45 1.45 0 1 0 2.9 0a1.45 1.45 0 1 0-2.9 0M549.5 546.5a1.45 1.45 0 1 0 2.9 0a1.45 1.45 0 1 0-2.9 0M553.3 547.8a1.45 1.45 0 1 0 2.9 0a1.45 1.45 0 1 0-2.9 0M557.8 548.4a1.45 1.45 0 1 0 2.9 0a1.45 1.45 0 1 0-2.9 0M545.8 549.1a1.45 1.45 0 1 0 2.9 0a1.45 1.45 0 1 0-2.9 0M546.9 558.6a1.45 1.45 0 1 0 2.9 0a1.45 1.45 0 1 0-2.9 0M529.8 564.3a1.45 1.45 0 1 0 2.9 0a1.45 1.45 0 1 0-2.9 0M524.8 570.6a1.45 1.45 0 1 0 2.9 0a1.45 1.45 0 1 0-2.9 0M524.1 573.8a1.45 1.45 0 1 0 2.9 0a1.45 1.45 0 1 0-2.9 0M533 570a1.45 1.45 0 1 0 2.9 0a1.45 1.45 0 1 0-2.9 0M536.2 570.6a1.45 1.45 0 1 0 2.9 0a1.45 1.45 0 1 0-2.9 0M541.9 568.7a1.45 1.45 0 1 0 2.9 0a1.45 1.45 0 1 0-2.9 0M541.2 570.6a1.45 1.45 0 1 0 2.9 0a1.45 1.45 0 1 0-2.9 0M543.8 572.5a1.45 1.45 0 1 0 2.9 0a1.45 1.45 0 1 0-2.9 0M547.6 570a1.45 1.45 0 1 0 2.9 0a1.45 1.45 0 1 0-2.9 0M560.3 569.4a1.45 1.45 0 1 0 2.9 0a1.45 1.45 0 1 0-2.9 0M562.8 569.4a1.45 1.45 0 1 0 2.9 0a1.45 1.45 0 1 0-2.9 0M569.1 569.4a1.45 1.45 0 1 0 2.9 0a1.45 1.45 0 1 0-2.9 0M572.3 566.2a1.45 1.45 0 1 0 2.9 0a1.45 1.45 0 1 0-2.9 0M574.2 565.6a1.45 1.45 0 1 0 2.9 0a1.45 1.45 0 1 0-2.9 0M533.6 574.4a1.45 1.45 0 1 0 2.9 0a1.45 1.45 0 1 0-2.9 0M529.8 577a1.45 1.45 0 1 0 2.9 0a1.45 1.45 0 1 0-2.9 0M555.8 575.7a1.45 1.45 0 1 0 2.9 0a1.45 1.45 0 1 0-2.9 0M567.2 572.9a1.45 1.45 0 1 0 2.9 0a1.45 1.45 0 1 0-2.9 0M562.8 579.5a1.45 1.45 0 1 0 2.9 0a1.45 1.45 0 1 0-2.9 0M572.3 579.5a1.45 1.45 0 1 0 2.9 0a1.45 1.45 0 1 0-2.9 0M575.5 578a1.45 1.45 0 1 0 2.9 0a1.45 1.45 0 1 0-2.9 0M571 582.3a1.45 1.45 0 1 0 2.9 0a1.45 1.45 0 1 0-2.9 0M578 580.8a1.45 1.45 0 1 0 2.9 0a1.45 1.45 0 1 0-2.9 0M530.5 583.3a1.45 1.45 0 1 0 2.9 0a1.45 1.45 0 1 0-2.9 0M562.8 585.6a1.45 1.45 0 1 0 2.9 0a1.45 1.45 0 1 0-2.9 0M529.8 590.3a1.45 1.45 0 1 0 2.9 0a1.45 1.45 0 1 0-2.9 0M581.8 542.6a1.45 1.45 0 1 0 2.9 0a1.45 1.45 0 1 0-2.9 0M600.9 542.2a1.45 1.45 0 1 0 2.9 0a1.45 1.45 0 1 0-2.9 0M580.6 573.9a1.45 1.45 0 1 0 2.9 0a1.45 1.45 0 1 0-2.9 0" fill="#6b9b7b"/>
<path d="M513.1 431.3l1.95 3.3h-3.9zM420.2 500.4l1.95 3.3h-3.9zM525.9 521.1l1.95 3.3h-3.9zM423.1 563.3l1.95 3.3h-3.9zM460.1 558.8l1.95 3.3h-3.9zM468.8 556.1l1.95 3.3h-3.9zM468.8 558.8l1.95 3.3h-3.9zM474.3 555.5l1.95 3.3h-3.9zM472.7 561.6l1.95 3.3h-3.9zM476.6 562.2l1.95 3.3h-3.9zM477.9 565.5l1.95 3.3h-3.9zM472.7 569.1l1.95 3.3h-3.9zM485.1 556.6l1.95 3.3h-3.9zM482.2 564.9l1.95 3.3h-3.9zM516.6 537.2l1.95 3.3h-3.9zM508.6 547.4l1.95 3.3h-3.9zM506.1 551.8l1.95 3.3h-3.9zM494 560.1l1.95 3.3h-3.9zM507.3 558.8l1.95 3.3h-3.9zM522.5 556.5l1.95 3.3h-3.9zM496.5 563.9l1.95 3.3h-3.9zM500.3 565.1l1.95 3.3h-3.9zM502.2 563.9l1.95 3.3h-3.9zM505.4 564.5l1.95 3.3h-3.9zM509.2 563.9l1.95 3.3h-3.9zM511.1 565.1l1.95 3.3h-3.9zM513 564.5l1.95 3.3h-3.9zM516.2 563.9l1.95 3.3h-3.9zM521.3 563.9l1.95 3.3h-3.9zM524.4 563.6l1.95 3.3h-3.9zM528.2 563.9l1.95 3.3h-3.9zM491.5 571.2l1.95 3.3h-3.9zM496.5 568.9l1.95 3.3h-3.9zM500.3 567.7l1.95 3.3h-3.9zM504.2 568.3l1.95 3.3h-3.9zM511.8 570.2l1.95 3.3h-3.9zM516.2 573.4l1.95 3.3h-3.9zM521.9 567.7l1.95 3.3h-3.9zM527 570.8l1.95 3.3h-3.9zM528.9 571.5l1.95 3.3h-3.9zM500.3 575.3l1.95 3.3h-3.9zM507.3 577.8l1.95 3.3h-3.9zM515.6 578.8l1.95 3.3h-3.9zM521.9 579.1l1.95 3.3h-3.9zM516.8 587.3l1.95 3.3h-3.9zM551.6 537.2l1.95 3.3h-3.9zM540.2 543.6l1.95 3.3h-3.9zM535.1 550.9l1.95 3.3h-3.9zM538.9 551.8l1.95 3.3h-3.9zM540.2 553.7l1.95 3.3h-3.9zM542.1 555l1.95 3.3h-3.9zM543.8 549.7l1.95 3.3h-3.9zM547.8 553.7l1.95 3.3h-3.9zM545.3 557.5l1.95 3.3h-3.9zM542.7 559.4l1.95 3.3h-3.9zM528.8 558.2l1.95 3.3h-3.9zM531.3 560.1l1.95 3.3h-3.9zM526.9 560.7l1.95 3.3h-3.9zM526.3 563.2l1.95 3.3h-3.9zM532.6 563.9l1.95 3.3h-3.9zM537.7 563.9l1.95 3.3h-3.9zM540.2 564.5l1.95 3.3h-3.9zM544.6 562.6l1.95 3.3h-3.9zM547.2 563.2l1.95 3.3h-3.9zM551.6 560.1l1.95 3.3h-3.9zM554.2 559.4l1.95 3.3h-3.9zM559.2 560.7l1.95 3.3h-3.9zM563 558.2l1.95 3.3h-3.9zM552.2 564.5l1.95 3.3h-3.9zM554.8 565.1l1.95 3.3h-3.9zM557.3 566.4l1.95 3.3h-3.9zM561.1 565.8l1.95 3.3h-3.9zM528.8 567.7l1.95 3.3h-3.9zM531.3 570.8l1.95 3.3h-3.9zM547.8 570.8l1.95 3.3h-3.9zM541.5 570.8l1.95 3.3h-3.9zM537.7 574l1.95 3.3h-3.9zM546.5 575.3l1.95 3.3h-3.9zM542.7 578.4l1.95 3.3h-3.9zM554.8 574.6l1.95 3.3h-3.9zM558.6 572.1l1.95 3.3h-3.9zM561.1 571.5l1.95 3.3h-3.9zM562.4 570.2l1.95 3.3h-3.9zM570.6 570.2l1.95 3.3h-3.9zM568.1 572.1l1.95 3.3h-3.9zM563.7 583.9l1.95 3.3h-3.9zM571.9 565.9l1.95 3.3h-3.9z" fill="#ef9462"/>
<path d="M396.3 563.8H620.2M524.5 424.7V611" stroke="#1a1a1a" stroke-width="1.1" stroke-dasharray="3.5 3.1" fill="none"/>
<rect x="396.3" y="424.7" width="223.9" height="186.3" fill="none" stroke="#8a8a8a" stroke-width="1"/>
<path d="M411.4 611v2.8M467.9 611v2.8M524.5 611v2.8M581 611v2.8M396.3 601h-2.8M396.3 563.8h-2.8M396.3 526.6h-2.8M396.3 489.5h-2.8M396.3 452.3h-2.8" stroke="#333" stroke-width="0.9" fill="none"/>
<text x="411.4" y="620.1" font-family="Liberation Sans" font-size="6.9" fill="#4d4d4d" text-anchor="middle">−200</text>
<text x="467.9" y="620.1" font-family="Liberation Sans" font-size="6.9" fill="#4d4d4d" text-anchor="middle">−100</text>
<text x="524.5" y="620.1" font-family="Liberation Sans" font-size="6.9" fill="#4d4d4d" text-anchor="middle">0</text>
<text x="581" y="620.1" font-family="Liberation Sans" font-size="6.9" fill="#4d4d4d" text-anchor="middle">100</text>
<text x="392.4" y="603.4" font-family="Liberation Sans" font-size="6.9" fill="#4d4d4d" text-anchor="end">−100</text>
<text x="392.4" y="566.2" font-family="Liberation Sans" font-size="6.9" fill="#4d4d4d" text-anchor="end">0</text>
<text x="392.4" y="529" font-family="Liberation Sans" font-size="6.9" fill="#4d4d4d" text-anchor="end">100</text>
<text x="392.4" y="491.9" font-family="Liberation Sans" font-size="6.9" fill="#4d4d4d" text-anchor="end">200</text>
<text x="392.4" y="454.7" font-family="Liberation Sans" font-size="6.9" fill="#4d4d4d" text-anchor="end">300</text>
<text x="508.2" y="628.3" font-family="Liberation Sans" font-size="8.2" fill="#1a1a1a" text-anchor="middle">Dim1 (9.9%)</text>
<text x="0" y="0" transform="translate(373.4 517.9) rotate(-90)" font-family="Liberation Sans" font-size="7.7" fill="#1a1a1a" text-anchor="middle">Dim2 (5.6%)</text>
<text x="396.3" y="419" font-family="Liberation Sans" font-size="9.8" fill="#1a1a1a">After Normalization</text>
<text x="345.2" y="426.7" font-family="Liberation Sans" font-size="22.3" fill="#111">D</text>
<text x="633.3" y="507.6" font-family="Liberation Sans" font-size="8.3" fill="#1a1a1a">Group</text>
<rect x="633.8" y="512.3" width="11.6" height="11.2" fill="#f2f5f3" stroke="#6f9e80" stroke-width="1"/>
<rect x="633.8" y="524" width="11.6" height="11.2" fill="#fdf4ef" stroke="#f19a68" stroke-width="1"/>
<circle cx="639.5999999999999" cy="517.9" r="2.6" fill="#6b9b7b"/>
<path d="M639.6 526.2l3.4 5.4h-6.8z" fill="#ef9462"/>
<text x="650.2" y="520.4" font-family="Liberation Sans" font-size="6.8" fill="#1a1a1a">GSE68004</text>
<text x="650.2" y="532.2" font-family="Liberation Sans" font-size="6.8" fill="#1a1a1a">GSE73461</text>
</svg>
</body></html>
